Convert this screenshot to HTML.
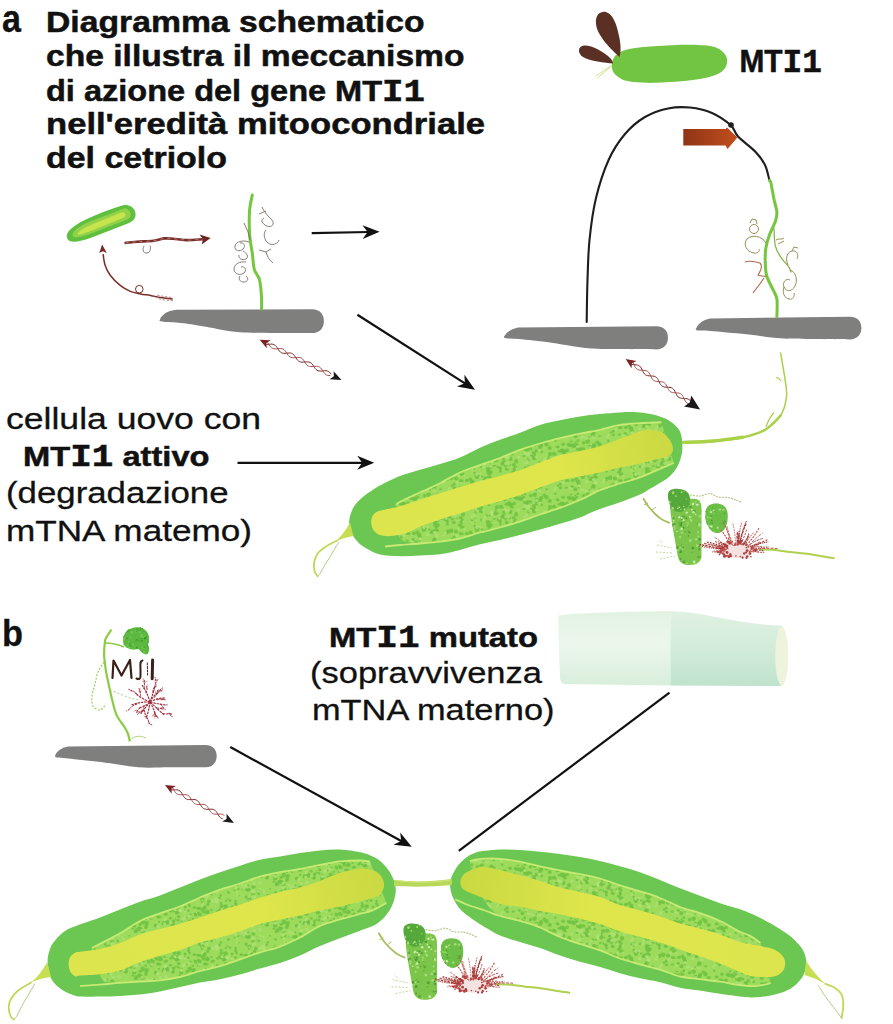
<!DOCTYPE html>
<html><head><meta charset="utf-8"><style>
html,body{margin:0;padding:0;background:#fff;}
svg{display:block;}
</style></head><body>
<svg width="893" height="1024" viewBox="0 0 893 1024">
<defs>
<pattern id="dotpat0" patternUnits="userSpaceOnUse" width="53" height="53"><g fill="#70c242" fill-opacity="0.85"><ellipse cx="24.0" cy="29.7" rx="2.2" ry="2.0"/><ellipse cx="26.9" cy="31.1" rx="1.2" ry="1.1"/><ellipse cx="33.4" cy="42.0" rx="1.1" ry="0.9"/><ellipse cx="4.8" cy="42.9" rx="1.9" ry="1.4"/><ellipse cx="-0.9" cy="-1.9" rx="1.9" ry="1.8"/><ellipse cx="-0.9" cy="51.1" rx="1.9" ry="1.8"/><ellipse cx="52.1" cy="-1.9" rx="1.9" ry="1.8"/><ellipse cx="52.1" cy="51.1" rx="1.9" ry="1.8"/><ellipse cx="8.3" cy="0.8" rx="1.7" ry="1.2"/><ellipse cx="8.3" cy="53.8" rx="1.7" ry="1.2"/><ellipse cx="10.1" cy="12.8" rx="1.0" ry="0.9"/><ellipse cx="23.3" cy="44.6" rx="1.7" ry="1.6"/><ellipse cx="26.5" cy="35.1" rx="1.6" ry="1.3"/><ellipse cx="-0.1" cy="-0.2" rx="2.1" ry="2.1"/><ellipse cx="-0.1" cy="52.8" rx="2.1" ry="2.1"/><ellipse cx="52.9" cy="-0.2" rx="2.1" ry="2.1"/><ellipse cx="52.9" cy="52.8" rx="2.1" ry="2.1"/><ellipse cx="16.7" cy="12.2" rx="1.4" ry="1.0"/><ellipse cx="40.6" cy="21.2" rx="2.1" ry="1.8"/><ellipse cx="-2.2" cy="44.9" rx="1.0" ry="0.8"/><ellipse cx="50.8" cy="44.9" rx="1.0" ry="0.8"/><ellipse cx="48.2" cy="24.9" rx="2.3" ry="2.0"/><ellipse cx="3.9" cy="33.4" rx="2.0" ry="1.6"/><ellipse cx="4.6" cy="17.6" rx="2.3" ry="2.3"/><ellipse cx="6.3" cy="13.1" rx="1.1" ry="0.8"/><ellipse cx="42.2" cy="9.4" rx="1.7" ry="1.5"/><ellipse cx="10.1" cy="38.8" rx="1.2" ry="1.1"/><ellipse cx="6.2" cy="22.3" rx="1.3" ry="1.0"/><ellipse cx="-1.5" cy="42.6" rx="1.4" ry="1.5"/><ellipse cx="51.5" cy="42.6" rx="1.4" ry="1.5"/><ellipse cx="11.2" cy="20.9" rx="2.1" ry="2.0"/><ellipse cx="5.3" cy="-0.6" rx="1.3" ry="1.0"/><ellipse cx="5.3" cy="52.4" rx="1.3" ry="1.0"/><ellipse cx="41.0" cy="17.4" rx="1.4" ry="1.0"/><ellipse cx="4.8" cy="30.9" rx="1.3" ry="1.2"/><ellipse cx="19.7" cy="24.0" rx="2.2" ry="2.0"/><ellipse cx="30.5" cy="45.9" rx="1.2" ry="0.9"/><ellipse cx="48.1" cy="43.3" rx="1.3" ry="1.0"/><ellipse cx="39.2" cy="49.8" rx="1.3" ry="1.4"/><ellipse cx="46.8" cy="32.0" rx="1.5" ry="1.1"/><ellipse cx="2.1" cy="-2.0" rx="1.3" ry="1.3"/><ellipse cx="2.1" cy="51.0" rx="1.3" ry="1.3"/><ellipse cx="55.1" cy="-2.0" rx="1.3" ry="1.3"/><ellipse cx="55.1" cy="51.0" rx="1.3" ry="1.3"/><ellipse cx="13.6" cy="43.7" rx="1.8" ry="1.5"/><ellipse cx="9.3" cy="38.2" rx="1.1" ry="0.9"/><ellipse cx="29.6" cy="45.2" rx="1.8" ry="1.5"/><ellipse cx="48.6" cy="10.8" rx="1.0" ry="0.8"/><ellipse cx="23.6" cy="3.2" rx="1.2" ry="1.0"/><ellipse cx="30.3" cy="7.0" rx="1.5" ry="1.6"/><ellipse cx="-1.0" cy="34.8" rx="1.9" ry="1.8"/><ellipse cx="52.0" cy="34.8" rx="1.9" ry="1.8"/><ellipse cx="7.4" cy="1.9" rx="1.0" ry="1.1"/><ellipse cx="7.4" cy="54.9" rx="1.0" ry="1.1"/><ellipse cx="37.2" cy="-2.0" rx="1.0" ry="1.0"/><ellipse cx="37.2" cy="51.0" rx="1.0" ry="1.0"/><ellipse cx="25.6" cy="38.7" rx="1.4" ry="1.6"/><ellipse cx="4.0" cy="28.9" rx="2.0" ry="2.1"/><ellipse cx="39.1" cy="37.3" rx="2.0" ry="2.2"/><ellipse cx="18.6" cy="36.3" rx="2.2" ry="2.3"/><ellipse cx="22.1" cy="41.9" rx="2.1" ry="2.0"/><ellipse cx="33.1" cy="20.3" rx="1.8" ry="1.7"/><ellipse cx="4.3" cy="33.9" rx="2.3" ry="2.4"/><ellipse cx="38.6" cy="20.6" rx="2.0" ry="1.8"/><ellipse cx="23.3" cy="44.4" rx="1.1" ry="1.1"/><ellipse cx="1.6" cy="31.9" rx="1.6" ry="1.3"/><ellipse cx="54.6" cy="31.9" rx="1.6" ry="1.3"/><ellipse cx="37.0" cy="26.4" rx="1.8" ry="1.9"/><ellipse cx="13.6" cy="0.6" rx="1.4" ry="1.4"/><ellipse cx="13.6" cy="53.6" rx="1.4" ry="1.4"/><ellipse cx="10.7" cy="9.0" rx="2.2" ry="2.1"/><ellipse cx="23.4" cy="47.3" rx="1.4" ry="1.4"/><ellipse cx="10.5" cy="22.8" rx="2.0" ry="2.2"/><ellipse cx="46.7" cy="20.4" rx="1.8" ry="1.5"/><ellipse cx="7.2" cy="26.3" rx="2.1" ry="2.2"/><ellipse cx="37.7" cy="-2.6" rx="1.4" ry="1.0"/><ellipse cx="37.7" cy="50.4" rx="1.4" ry="1.0"/><ellipse cx="23.9" cy="14.6" rx="1.3" ry="1.1"/><ellipse cx="33.2" cy="26.2" rx="1.4" ry="1.5"/><ellipse cx="-1.0" cy="24.0" rx="1.1" ry="0.8"/><ellipse cx="52.0" cy="24.0" rx="1.1" ry="0.8"/><ellipse cx="46.3" cy="2.2" rx="1.9" ry="1.8"/><ellipse cx="46.3" cy="55.2" rx="1.9" ry="1.8"/><ellipse cx="16.4" cy="42.0" rx="1.0" ry="0.8"/><ellipse cx="24.1" cy="1.3" rx="2.1" ry="1.7"/><ellipse cx="24.1" cy="54.3" rx="2.1" ry="1.7"/><ellipse cx="7.5" cy="2.5" rx="1.8" ry="1.6"/><ellipse cx="7.5" cy="55.5" rx="1.8" ry="1.6"/><ellipse cx="33.4" cy="34.7" rx="2.0" ry="2.2"/><ellipse cx="36.3" cy="10.6" rx="1.6" ry="1.2"/><ellipse cx="0.6" cy="25.0" rx="1.9" ry="1.5"/><ellipse cx="53.6" cy="25.0" rx="1.9" ry="1.5"/><ellipse cx="14.4" cy="18.3" rx="1.9" ry="1.7"/><ellipse cx="32.6" cy="40.1" rx="1.5" ry="1.5"/><ellipse cx="48.0" cy="4.6" rx="2.2" ry="2.2"/><ellipse cx="6.9" cy="24.0" rx="1.8" ry="1.9"/><ellipse cx="20.0" cy="30.1" rx="2.1" ry="2.2"/><ellipse cx="-3.0" cy="24.6" rx="1.8" ry="1.4"/><ellipse cx="50.0" cy="24.6" rx="1.8" ry="1.4"/><ellipse cx="38.3" cy="43.4" rx="1.8" ry="1.8"/><ellipse cx="11.3" cy="47.7" rx="2.3" ry="2.5"/><ellipse cx="28.5" cy="41.9" rx="1.4" ry="1.5"/><ellipse cx="45.4" cy="18.5" rx="1.1" ry="1.0"/><ellipse cx="29.2" cy="40.7" rx="1.6" ry="1.2"/><ellipse cx="42.9" cy="3.4" rx="2.0" ry="1.6"/><ellipse cx="17.8" cy="41.8" rx="1.2" ry="0.9"/><ellipse cx="27.4" cy="38.3" rx="2.1" ry="2.0"/><ellipse cx="-2.9" cy="26.1" rx="2.2" ry="1.6"/><ellipse cx="50.1" cy="26.1" rx="2.2" ry="1.6"/><ellipse cx="11.7" cy="27.9" rx="1.4" ry="1.4"/><ellipse cx="33.9" cy="27.7" rx="2.1" ry="1.9"/><ellipse cx="16.5" cy="20.2" rx="2.1" ry="2.2"/><ellipse cx="11.0" cy="45.1" rx="2.3" ry="2.1"/><ellipse cx="30.4" cy="10.7" rx="1.7" ry="1.5"/><ellipse cx="32.1" cy="1.5" rx="2.3" ry="2.0"/><ellipse cx="32.1" cy="54.5" rx="2.3" ry="2.0"/><ellipse cx="21.2" cy="42.5" rx="1.7" ry="1.6"/><ellipse cx="36.6" cy="3.5" rx="1.7" ry="1.5"/><ellipse cx="-2.3" cy="48.9" rx="1.3" ry="1.2"/><ellipse cx="50.7" cy="48.9" rx="1.3" ry="1.2"/><ellipse cx="6.7" cy="23.0" rx="2.1" ry="2.2"/><ellipse cx="25.3" cy="16.8" rx="1.2" ry="1.2"/><ellipse cx="49.0" cy="6.9" rx="2.0" ry="1.4"/><ellipse cx="10.3" cy="12.0" rx="1.9" ry="1.6"/><ellipse cx="18.8" cy="32.8" rx="1.1" ry="1.1"/><ellipse cx="6.5" cy="27.1" rx="1.3" ry="1.0"/><ellipse cx="28.1" cy="23.1" rx="1.5" ry="1.3"/><ellipse cx="28.1" cy="8.5" rx="1.3" ry="1.2"/><ellipse cx="33.8" cy="28.1" rx="2.1" ry="2.0"/><ellipse cx="45.4" cy="12.3" rx="2.0" ry="2.0"/><ellipse cx="47.8" cy="16.7" rx="1.4" ry="1.5"/><ellipse cx="11.6" cy="-0.1" rx="2.2" ry="1.6"/><ellipse cx="11.6" cy="52.9" rx="2.2" ry="1.6"/><ellipse cx="12.7" cy="38.5" rx="1.3" ry="1.0"/><ellipse cx="44.1" cy="22.3" rx="2.0" ry="1.5"/><ellipse cx="21.3" cy="36.3" rx="1.0" ry="0.8"/><ellipse cx="36.2" cy="48.3" rx="2.3" ry="1.7"/><ellipse cx="26.8" cy="40.2" rx="1.7" ry="1.6"/><ellipse cx="10.0" cy="3.7" rx="1.1" ry="0.8"/><ellipse cx="29.2" cy="27.3" rx="1.7" ry="1.3"/><ellipse cx="9.8" cy="10.8" rx="2.1" ry="2.3"/><ellipse cx="49.1" cy="5.0" rx="1.1" ry="1.2"/><ellipse cx="24.5" cy="40.5" rx="1.4" ry="1.3"/><ellipse cx="27.3" cy="22.8" rx="1.8" ry="1.3"/><ellipse cx="37.2" cy="44.7" rx="1.2" ry="1.1"/><ellipse cx="39.2" cy="21.5" rx="1.3" ry="1.0"/><ellipse cx="27.2" cy="0.8" rx="2.2" ry="2.2"/><ellipse cx="27.2" cy="53.8" rx="2.2" ry="2.2"/><ellipse cx="37.3" cy="45.6" rx="1.8" ry="1.6"/><ellipse cx="31.8" cy="26.7" rx="2.3" ry="2.3"/><ellipse cx="13.7" cy="48.3" rx="2.0" ry="2.0"/><ellipse cx="43.2" cy="21.5" rx="2.2" ry="2.3"/><ellipse cx="36.8" cy="40.7" rx="2.0" ry="1.7"/><ellipse cx="38.3" cy="3.7" rx="1.4" ry="1.3"/><ellipse cx="0.6" cy="18.8" rx="1.8" ry="1.7"/><ellipse cx="53.6" cy="18.8" rx="1.8" ry="1.7"/><ellipse cx="12.3" cy="-2.9" rx="1.9" ry="1.6"/><ellipse cx="12.3" cy="50.1" rx="1.9" ry="1.6"/><ellipse cx="35.0" cy="30.2" rx="1.7" ry="1.4"/></g><g fill="#b4e37a" fill-opacity="0.7"><circle cx="-0.0" cy="34.0" r="1.7"/><circle cx="53.0" cy="34.0" r="1.7"/><circle cx="40.4" cy="-1.1" r="1.0"/><circle cx="40.4" cy="51.9" r="1.0"/><circle cx="32.6" cy="39.2" r="1.3"/><circle cx="21.3" cy="2.7" r="1.2"/><circle cx="21.3" cy="55.7" r="1.2"/><circle cx="19.9" cy="5.2" r="1.3"/><circle cx="48.0" cy="29.2" r="1.5"/><circle cx="-1.7" cy="30.1" r="2.0"/><circle cx="51.3" cy="30.1" r="2.0"/><circle cx="33.8" cy="42.9" r="1.1"/><circle cx="31.7" cy="40.2" r="1.0"/><circle cx="49.3" cy="8.5" r="1.5"/><circle cx="9.0" cy="26.3" r="1.6"/><circle cx="3.1" cy="-2.9" r="1.4"/><circle cx="3.1" cy="50.1" r="1.4"/><circle cx="27.9" cy="31.7" r="1.4"/><circle cx="15.1" cy="34.7" r="1.6"/><circle cx="15.0" cy="38.0" r="1.3"/><circle cx="0.7" cy="13.0" r="1.0"/><circle cx="53.7" cy="13.0" r="1.0"/><circle cx="8.3" cy="40.0" r="1.4"/><circle cx="47.6" cy="39.7" r="1.1"/><circle cx="-0.6" cy="-2.9" r="1.1"/><circle cx="-0.6" cy="50.1" r="1.1"/><circle cx="52.4" cy="-2.9" r="1.1"/><circle cx="52.4" cy="50.1" r="1.1"/><circle cx="48.0" cy="22.8" r="1.5"/><circle cx="-1.4" cy="12.9" r="1.5"/><circle cx="51.6" cy="12.9" r="1.5"/><circle cx="49.7" cy="38.3" r="1.5"/><circle cx="-1.1" cy="43.3" r="1.6"/><circle cx="51.9" cy="43.3" r="1.6"/><circle cx="6.1" cy="33.1" r="1.5"/><circle cx="10.8" cy="2.8" r="1.5"/><circle cx="10.8" cy="55.8" r="1.5"/><circle cx="6.6" cy="23.5" r="1.7"/><circle cx="24.1" cy="13.9" r="1.6"/><circle cx="22.2" cy="41.2" r="1.5"/><circle cx="-0.1" cy="-2.5" r="1.7"/><circle cx="-0.1" cy="50.5" r="1.7"/><circle cx="52.9" cy="-2.5" r="1.7"/><circle cx="52.9" cy="50.5" r="1.7"/><circle cx="12.6" cy="6.0" r="1.9"/><circle cx="41.6" cy="33.1" r="1.4"/><circle cx="14.4" cy="36.3" r="1.6"/><circle cx="31.4" cy="33.6" r="1.8"/><circle cx="10.1" cy="13.2" r="2.0"/><circle cx="48.5" cy="46.6" r="1.0"/><circle cx="3.2" cy="14.4" r="1.4"/><circle cx="33.0" cy="5.4" r="1.5"/><circle cx="3.8" cy="4.6" r="1.7"/><circle cx="29.2" cy="33.4" r="1.4"/><circle cx="25.4" cy="11.2" r="1.3"/><circle cx="39.5" cy="44.4" r="1.1"/><circle cx="6.3" cy="42.9" r="1.6"/><circle cx="40.7" cy="11.3" r="1.4"/><circle cx="13.7" cy="42.9" r="1.4"/><circle cx="34.6" cy="-0.6" r="1.3"/><circle cx="34.6" cy="52.4" r="1.3"/><circle cx="29.1" cy="39.5" r="1.9"/></g></pattern><pattern id="dotpat1" patternUnits="userSpaceOnUse" width="47" height="47"><g fill="#70c242" fill-opacity="0.85"><ellipse cx="22.3" cy="30.9" rx="1.9" ry="1.4"/><ellipse cx="0.5" cy="17.6" rx="1.4" ry="1.4"/><ellipse cx="47.5" cy="17.6" rx="1.4" ry="1.4"/><ellipse cx="32.5" cy="28.3" rx="1.7" ry="1.7"/><ellipse cx="6.8" cy="20.7" rx="1.2" ry="1.3"/><ellipse cx="2.8" cy="38.5" rx="1.1" ry="1.1"/><ellipse cx="49.8" cy="38.5" rx="1.1" ry="1.1"/><ellipse cx="15.8" cy="19.0" rx="2.1" ry="1.5"/><ellipse cx="2.9" cy="43.0" rx="1.7" ry="1.2"/><ellipse cx="49.9" cy="43.0" rx="1.7" ry="1.2"/><ellipse cx="-0.6" cy="-2.5" rx="1.1" ry="1.0"/><ellipse cx="-0.6" cy="44.5" rx="1.1" ry="1.0"/><ellipse cx="46.4" cy="-2.5" rx="1.1" ry="1.0"/><ellipse cx="46.4" cy="44.5" rx="1.1" ry="1.0"/><ellipse cx="6.3" cy="14.7" rx="1.8" ry="1.4"/><ellipse cx="32.8" cy="2.4" rx="1.2" ry="1.3"/><ellipse cx="32.8" cy="49.4" rx="1.2" ry="1.3"/><ellipse cx="18.8" cy="19.7" rx="1.8" ry="1.6"/><ellipse cx="18.1" cy="1.4" rx="1.9" ry="2.1"/><ellipse cx="18.1" cy="48.4" rx="1.9" ry="2.1"/><ellipse cx="-1.1" cy="31.2" rx="1.5" ry="1.2"/><ellipse cx="45.9" cy="31.2" rx="1.5" ry="1.2"/><ellipse cx="32.4" cy="31.7" rx="1.1" ry="0.9"/><ellipse cx="17.1" cy="24.0" rx="2.1" ry="1.8"/><ellipse cx="1.3" cy="38.7" rx="1.6" ry="1.4"/><ellipse cx="48.3" cy="38.7" rx="1.6" ry="1.4"/><ellipse cx="10.4" cy="20.1" rx="1.5" ry="1.5"/><ellipse cx="4.8" cy="25.8" rx="1.2" ry="1.2"/><ellipse cx="1.7" cy="13.0" rx="1.4" ry="1.4"/><ellipse cx="48.7" cy="13.0" rx="1.4" ry="1.4"/><ellipse cx="2.4" cy="21.6" rx="1.3" ry="1.0"/><ellipse cx="49.4" cy="21.6" rx="1.3" ry="1.0"/><ellipse cx="22.4" cy="-1.9" rx="1.6" ry="1.8"/><ellipse cx="22.4" cy="45.1" rx="1.6" ry="1.8"/><ellipse cx="7.9" cy="43.4" rx="1.5" ry="1.1"/><ellipse cx="35.2" cy="42.9" rx="1.0" ry="0.8"/><ellipse cx="36.2" cy="16.1" rx="1.3" ry="0.9"/><ellipse cx="1.9" cy="29.1" rx="2.3" ry="2.5"/><ellipse cx="48.9" cy="29.1" rx="2.3" ry="2.5"/><ellipse cx="23.7" cy="1.1" rx="1.4" ry="1.4"/><ellipse cx="23.7" cy="48.1" rx="1.4" ry="1.4"/><ellipse cx="39.1" cy="30.1" rx="1.3" ry="1.2"/><ellipse cx="22.4" cy="29.5" rx="1.3" ry="1.4"/><ellipse cx="42.0" cy="7.6" rx="1.4" ry="1.4"/><ellipse cx="13.1" cy="-2.6" rx="1.7" ry="1.6"/><ellipse cx="13.1" cy="44.4" rx="1.7" ry="1.6"/><ellipse cx="33.1" cy="10.1" rx="1.4" ry="1.1"/><ellipse cx="32.1" cy="32.6" rx="1.2" ry="1.2"/><ellipse cx="19.8" cy="11.3" rx="1.6" ry="1.7"/><ellipse cx="26.3" cy="29.4" rx="2.2" ry="2.4"/><ellipse cx="35.7" cy="19.6" rx="1.8" ry="1.9"/><ellipse cx="37.1" cy="27.3" rx="1.5" ry="1.2"/><ellipse cx="34.6" cy="26.5" rx="1.0" ry="1.0"/><ellipse cx="42.5" cy="37.5" rx="2.2" ry="2.3"/><ellipse cx="25.1" cy="37.1" rx="1.5" ry="1.1"/><ellipse cx="16.6" cy="14.7" rx="2.2" ry="2.2"/><ellipse cx="25.5" cy="29.2" rx="1.2" ry="1.1"/><ellipse cx="32.9" cy="18.5" rx="1.3" ry="1.1"/><ellipse cx="15.2" cy="32.2" rx="1.2" ry="0.9"/><ellipse cx="14.7" cy="32.7" rx="2.0" ry="1.9"/><ellipse cx="43.9" cy="17.2" rx="1.0" ry="0.9"/><ellipse cx="20.9" cy="8.4" rx="1.9" ry="1.6"/><ellipse cx="11.2" cy="15.4" rx="2.2" ry="1.6"/><ellipse cx="16.9" cy="13.1" rx="1.3" ry="1.1"/><ellipse cx="10.4" cy="43.2" rx="1.7" ry="1.6"/><ellipse cx="7.6" cy="21.8" rx="1.8" ry="1.9"/><ellipse cx="11.7" cy="21.6" rx="2.1" ry="2.2"/><ellipse cx="10.7" cy="25.3" rx="2.0" ry="1.7"/><ellipse cx="31.6" cy="31.2" rx="2.3" ry="2.1"/><ellipse cx="32.0" cy="16.5" rx="2.0" ry="1.6"/><ellipse cx="23.5" cy="17.0" rx="1.4" ry="1.1"/><ellipse cx="10.6" cy="25.6" rx="1.3" ry="1.0"/><ellipse cx="37.8" cy="13.4" rx="2.2" ry="2.1"/><ellipse cx="18.3" cy="41.0" rx="2.2" ry="1.8"/><ellipse cx="5.9" cy="30.1" rx="2.1" ry="2.0"/><ellipse cx="36.9" cy="19.4" rx="1.8" ry="1.5"/><ellipse cx="19.1" cy="17.8" rx="1.5" ry="1.3"/><ellipse cx="37.9" cy="8.0" rx="1.3" ry="1.0"/><ellipse cx="-1.4" cy="24.6" rx="1.1" ry="1.1"/><ellipse cx="45.6" cy="24.6" rx="1.1" ry="1.1"/><ellipse cx="41.1" cy="38.6" rx="1.5" ry="1.5"/><ellipse cx="14.4" cy="6.5" rx="2.1" ry="2.2"/><ellipse cx="9.9" cy="41.4" rx="1.0" ry="0.8"/><ellipse cx="0.6" cy="8.0" rx="1.2" ry="1.2"/><ellipse cx="47.6" cy="8.0" rx="1.2" ry="1.2"/><ellipse cx="13.9" cy="8.9" rx="1.2" ry="1.0"/><ellipse cx="40.5" cy="28.5" rx="1.1" ry="1.1"/><ellipse cx="25.2" cy="21.1" rx="1.7" ry="1.6"/><ellipse cx="37.6" cy="23.7" rx="1.8" ry="1.6"/><ellipse cx="29.8" cy="18.3" rx="1.5" ry="1.4"/><ellipse cx="33.6" cy="13.1" rx="2.2" ry="2.0"/><ellipse cx="40.2" cy="32.4" rx="2.2" ry="2.2"/><ellipse cx="20.1" cy="19.1" rx="1.8" ry="1.8"/><ellipse cx="39.4" cy="6.1" rx="1.1" ry="0.8"/><ellipse cx="4.0" cy="2.7" rx="1.0" ry="0.8"/><ellipse cx="4.0" cy="49.7" rx="1.0" ry="0.8"/><ellipse cx="5.3" cy="32.2" rx="1.8" ry="2.0"/><ellipse cx="-1.9" cy="35.1" rx="2.2" ry="1.6"/><ellipse cx="45.1" cy="35.1" rx="2.2" ry="1.6"/><ellipse cx="10.7" cy="43.5" rx="1.6" ry="1.3"/><ellipse cx="35.6" cy="19.9" rx="1.7" ry="1.4"/><ellipse cx="11.4" cy="4.1" rx="1.8" ry="1.9"/><ellipse cx="-0.6" cy="36.0" rx="2.2" ry="1.9"/><ellipse cx="46.4" cy="36.0" rx="2.2" ry="1.9"/><ellipse cx="14.0" cy="43.4" rx="1.8" ry="1.7"/><ellipse cx="0.6" cy="10.7" rx="1.6" ry="1.6"/><ellipse cx="47.6" cy="10.7" rx="1.6" ry="1.6"/><ellipse cx="38.8" cy="35.6" rx="1.4" ry="1.2"/><ellipse cx="40.5" cy="-0.5" rx="1.6" ry="1.3"/><ellipse cx="40.5" cy="46.5" rx="1.6" ry="1.3"/><ellipse cx="29.3" cy="25.2" rx="1.5" ry="1.2"/><ellipse cx="18.1" cy="28.8" rx="1.2" ry="1.1"/><ellipse cx="-2.2" cy="35.0" rx="1.3" ry="1.2"/><ellipse cx="44.8" cy="35.0" rx="1.3" ry="1.2"/><ellipse cx="4.8" cy="34.6" rx="1.8" ry="1.4"/><ellipse cx="25.8" cy="28.0" rx="1.8" ry="1.5"/><ellipse cx="14.6" cy="16.7" rx="2.3" ry="1.9"/><ellipse cx="23.6" cy="21.6" rx="1.2" ry="1.1"/><ellipse cx="9.6" cy="15.1" rx="1.5" ry="1.2"/><ellipse cx="-2.9" cy="14.0" rx="1.4" ry="1.4"/><ellipse cx="44.1" cy="14.0" rx="1.4" ry="1.4"/><ellipse cx="18.7" cy="24.2" rx="1.8" ry="1.3"/><ellipse cx="31.6" cy="4.8" rx="1.3" ry="1.4"/><ellipse cx="-0.5" cy="31.7" rx="1.2" ry="1.1"/><ellipse cx="46.5" cy="31.7" rx="1.2" ry="1.1"/><ellipse cx="13.3" cy="39.5" rx="1.3" ry="1.0"/></g><g fill="#b4e37a" fill-opacity="0.7"><circle cx="30.0" cy="29.9" r="1.6"/><circle cx="22.5" cy="-1.9" r="1.5"/><circle cx="22.5" cy="45.1" r="1.5"/><circle cx="-3.0" cy="18.4" r="1.5"/><circle cx="44.0" cy="18.4" r="1.5"/><circle cx="16.9" cy="33.6" r="1.8"/><circle cx="11.2" cy="24.7" r="1.7"/><circle cx="23.6" cy="31.1" r="1.6"/><circle cx="33.6" cy="16.7" r="1.3"/><circle cx="1.2" cy="41.8" r="1.8"/><circle cx="48.2" cy="41.8" r="1.8"/><circle cx="18.3" cy="-1.5" r="1.9"/><circle cx="18.3" cy="45.5" r="1.9"/><circle cx="7.1" cy="39.3" r="1.4"/><circle cx="14.8" cy="12.2" r="1.4"/><circle cx="2.4" cy="2.4" r="1.1"/><circle cx="2.4" cy="49.4" r="1.1"/><circle cx="49.4" cy="2.4" r="1.1"/><circle cx="49.4" cy="49.4" r="1.1"/><circle cx="14.4" cy="7.4" r="1.1"/><circle cx="39.1" cy="17.8" r="1.5"/><circle cx="28.3" cy="43.9" r="1.1"/><circle cx="10.7" cy="40.4" r="1.9"/><circle cx="43.8" cy="24.8" r="1.4"/><circle cx="8.9" cy="42.8" r="1.8"/><circle cx="25.9" cy="37.2" r="1.3"/><circle cx="25.1" cy="42.6" r="1.1"/><circle cx="29.0" cy="8.7" r="1.8"/><circle cx="39.4" cy="30.3" r="1.4"/><circle cx="1.0" cy="23.2" r="1.4"/><circle cx="48.0" cy="23.2" r="1.4"/><circle cx="18.8" cy="3.7" r="1.9"/><circle cx="24.5" cy="26.4" r="1.8"/><circle cx="42.1" cy="25.8" r="1.5"/><circle cx="39.8" cy="17.5" r="1.9"/><circle cx="1.1" cy="37.4" r="1.5"/><circle cx="48.1" cy="37.4" r="1.5"/><circle cx="29.3" cy="-0.5" r="1.2"/><circle cx="29.3" cy="46.5" r="1.2"/><circle cx="19.1" cy="37.6" r="1.7"/><circle cx="24.6" cy="36.5" r="1.7"/><circle cx="40.9" cy="30.6" r="1.4"/><circle cx="13.5" cy="3.9" r="1.1"/><circle cx="2.0" cy="-1.1" r="1.1"/><circle cx="2.0" cy="45.9" r="1.1"/><circle cx="49.0" cy="-1.1" r="1.1"/><circle cx="49.0" cy="45.9" r="1.1"/><circle cx="28.3" cy="6.3" r="2.0"/><circle cx="25.0" cy="8.3" r="1.8"/></g></pattern><clipPath id="lc0"><path d="M396.0,505.0 C396.7,504.5 396.0,504.0 400.0,501.9 C404.0,499.8 413.3,495.6 420.0,492.5 C426.7,489.4 433.3,486.5 440.0,483.2 C446.7,479.9 453.3,475.5 460.0,472.5 C466.7,469.5 473.3,467.5 480.0,465.1 C486.7,462.7 493.3,460.7 500.0,458.1 C506.7,455.6 513.3,452.2 520.0,449.8 C526.7,447.4 533.3,445.4 540.0,443.5 C546.7,441.6 553.3,439.7 560.0,438.1 C566.7,436.5 573.3,435.1 580.0,433.7 C586.7,432.3 593.3,431.3 600.0,429.8 C606.7,428.3 613.3,425.9 620.0,424.8 C626.7,423.7 633.1,423.5 640.0,423.1 C646.9,422.7 657.8,422.4 661.4,422.2 L673.8,463.0 C671.5,464.0 665.6,466.4 660.0,468.8 C654.4,471.2 646.7,474.9 640.0,477.4 C633.3,479.8 626.7,481.4 620.0,483.5 C613.3,485.6 606.7,487.4 600.0,490.2 C593.3,492.9 586.7,497.1 580.0,500.0 C573.3,502.9 566.7,505.5 560.0,507.9 C553.3,510.3 546.7,512.2 540.0,514.5 C533.3,516.8 526.7,519.4 520.0,521.6 C513.3,523.8 506.7,525.7 500.0,527.5 C493.3,529.3 486.7,530.7 480.0,532.5 C473.3,534.3 466.7,537.0 460.0,538.5 C453.3,540.0 446.7,540.8 440.0,541.6 C433.3,542.4 426.3,543.6 420.0,543.5 C413.7,543.4 405.0,541.4 402.0,541.0 L390.0,522.0 L396.0,505.0Z"/></clipPath><linearGradient id="yg0" gradientUnits="userSpaceOnUse" x1="380.0" y1="520.0" x2="675.0" y2="445.0"><stop offset="0" stop-color="#dde54e"/><stop offset="0.6" stop-color="#dfe64c"/><stop offset="1" stop-color="#cad942"/></linearGradient><clipPath id="lc1"><path d="M92.0,948.0 C93.3,947.3 95.3,946.4 100.0,943.9 C104.7,941.4 113.3,937.1 120.0,933.3 C126.7,929.5 133.3,924.3 140.0,921.0 C146.7,917.7 153.3,915.7 160.0,913.3 C166.7,910.9 173.3,909.1 180.0,906.5 C186.7,903.9 193.3,900.3 200.0,897.5 C206.7,894.7 213.3,891.9 220.0,889.6 C226.7,887.3 233.3,885.7 240.0,883.5 C246.7,881.3 253.3,878.4 260.0,876.5 C266.7,874.6 273.3,873.4 280.0,872.1 C286.7,870.9 293.3,870.2 300.0,869.0 C306.7,867.8 313.3,866.2 320.0,864.9 C326.7,863.6 333.3,862.1 340.0,861.4 C346.7,860.7 355.0,860.5 360.0,860.5 C365.0,860.5 368.3,861.3 370.0,861.5 L386.4,903.0 C384.2,904.2 377.6,908.3 373.2,910.1 C368.8,911.9 365.5,912.5 360.0,914.0 C354.5,915.5 346.7,917.4 340.0,919.4 C333.3,921.4 326.7,923.0 320.0,926.0 C313.3,929.0 306.7,934.1 300.0,937.5 C293.3,940.9 286.7,944.1 280.0,946.6 C273.3,949.1 266.7,950.4 260.0,952.5 C253.3,954.6 246.7,957.1 240.0,959.4 C233.3,961.7 226.7,964.3 220.0,966.2 C213.3,968.1 206.7,969.2 200.0,971.0 C193.3,972.8 186.7,975.5 180.0,977.0 C173.3,978.5 166.7,979.5 160.0,980.3 C153.3,981.1 146.7,981.3 140.0,981.7 C133.3,982.1 126.0,982.8 120.0,982.8 C114.0,982.8 106.7,981.7 104.0,981.5 L90.0,962.0 L92.0,948.0Z"/></clipPath><linearGradient id="yg1" gradientUnits="userSpaceOnUse" x1="80.0" y1="965.0" x2="384.0" y2="882.0"><stop offset="0" stop-color="#dde54e"/><stop offset="0.6" stop-color="#dfe64c"/><stop offset="1" stop-color="#cad942"/></linearGradient><clipPath id="lc2"><path d="M470.0,861.0 C471.1,860.8 474.1,859.9 476.6,859.5 C479.1,859.1 481.1,858.7 485.0,858.6 C488.9,858.5 494.2,858.3 500.0,858.8 C505.8,859.3 513.3,860.4 520.0,861.7 C526.7,863.0 533.3,865.0 540.0,866.4 C546.7,867.8 553.3,869.1 560.0,870.4 C566.7,871.7 573.3,872.9 580.0,874.2 C586.7,875.6 593.3,876.6 600.0,878.5 C606.7,880.4 613.3,883.2 620.0,885.3 C626.7,887.4 633.3,889.2 640.0,891.3 C646.7,893.4 653.3,895.4 660.0,898.0 C666.7,900.6 673.3,904.5 680.0,907.0 C686.7,909.5 693.3,910.9 700.0,913.2 C706.7,915.5 713.3,917.9 720.0,921.0 C726.7,924.1 735.0,929.3 740.0,931.8 C745.0,934.3 746.8,934.0 750.2,935.9 C753.6,937.8 758.8,941.9 760.5,943.1 L770.7,983.1 C768.2,983.6 760.5,985.8 755.4,986.1 C750.3,986.4 745.9,985.8 740.0,985.1 C734.1,984.4 726.7,982.7 720.0,981.7 C713.3,980.7 706.7,980.1 700.0,979.2 C693.3,978.3 686.7,978.1 680.0,976.5 C673.3,974.9 666.7,971.7 660.0,969.7 C653.3,967.7 646.7,966.3 640.0,964.4 C633.3,962.5 626.7,960.8 620.0,958.5 C613.3,956.2 606.7,952.8 600.0,950.4 C593.3,948.0 586.7,946.2 580.0,944.0 C573.3,941.8 566.7,939.8 560.0,937.0 C553.3,934.2 546.7,930.2 540.0,927.5 C533.3,924.8 526.7,922.8 520.0,920.9 C513.3,919.0 505.3,918.5 500.0,916.0 C494.7,913.5 490.0,907.7 488.0,906.0 L472.0,882.0 L470.0,861.0Z"/></clipPath><linearGradient id="yg2" gradientUnits="userSpaceOnUse" x1="784.0" y1="960.0" x2="465.0" y2="880.0"><stop offset="0" stop-color="#dde54e"/><stop offset="0.6" stop-color="#dfe64c"/><stop offset="1" stop-color="#cad942"/></linearGradient>
</defs>
<rect width="893" height="1024" fill="#fff"/>
<g>
<path d="M349.4,519.1 C349.8,516.8 350.7,513.8 351.7,511.3 C352.7,508.8 353.7,506.7 355.6,504.2 C357.6,501.7 360.8,498.6 363.4,496.4 C366.0,494.2 368.5,492.7 371.3,490.9 C374.1,489.1 375.2,488.1 380.0,485.6 C384.8,483.1 393.3,478.7 400.0,476.1 C406.7,473.5 413.3,471.8 420.0,469.8 C426.7,467.8 433.3,466.2 440.0,464.1 C446.7,462.1 453.3,460.2 460.0,457.5 C466.7,454.8 473.3,450.8 480.0,447.8 C486.7,444.8 493.3,442.2 500.0,439.7 C506.7,437.2 513.2,435.2 520.0,432.7 C526.8,430.2 533.9,426.9 540.6,424.8 C547.3,422.7 553.4,421.7 560.0,420.3 C566.6,418.9 573.3,417.6 580.0,416.5 C586.7,415.4 593.3,414.7 600.0,414.0 C606.7,413.3 613.8,412.7 620.0,412.4 C626.2,412.1 631.9,411.9 637.0,412.2 C642.1,412.5 646.1,413.1 650.6,414.1 C655.1,415.1 660.5,416.7 664.1,418.1 C667.7,419.6 669.7,420.9 672.2,422.8 C674.7,424.7 677.3,427.1 678.9,429.6 C680.5,432.1 681.2,434.7 681.8,438.0 C682.4,441.3 682.4,446.3 682.3,449.6 C682.1,452.9 681.6,455.1 680.9,457.6 C680.2,460.1 679.4,462.4 678.2,464.8 C677.0,467.2 675.6,469.8 673.8,472.0 C672.0,474.2 669.8,476.4 667.5,478.2 C665.2,480.0 663.0,481.0 660.3,482.7 C657.6,484.4 654.8,486.1 651.4,488.1 C648.0,490.1 644.4,492.5 640.0,494.6 C635.6,496.7 630.0,498.6 625.0,500.5 C620.0,502.4 614.9,503.9 609.7,505.7 C604.6,507.5 599.1,509.2 594.1,511.2 C589.1,513.2 585.7,515.4 580.0,517.5 C574.3,519.6 566.7,521.8 560.0,523.8 C553.3,525.8 546.7,527.6 540.0,529.5 C533.3,531.4 526.7,533.1 520.0,534.9 C513.3,536.6 506.7,538.4 500.0,540.0 C493.3,541.6 486.7,542.6 480.0,544.3 C473.3,546.0 466.7,548.3 460.0,550.0 C453.3,551.7 446.7,553.4 440.0,554.3 C433.3,555.2 426.7,555.2 420.0,555.5 C413.3,555.8 406.7,556.4 400.0,556.2 C393.3,556.0 385.1,555.4 380.0,554.4 C374.9,553.4 372.7,551.8 369.7,550.3 C366.7,548.8 364.2,547.4 361.9,545.6 C359.5,543.8 357.3,541.5 355.6,539.4 C353.9,537.3 352.7,535.5 351.7,533.1 C350.7,530.8 349.8,527.6 349.4,525.3 C349.0,523.0 349.0,521.4 349.4,519.1Z" fill="#6bc751"/>
<path d="M396.0,505.0 C396.7,504.5 396.0,504.0 400.0,501.9 C404.0,499.8 413.3,495.6 420.0,492.5 C426.7,489.4 433.3,486.5 440.0,483.2 C446.7,479.9 453.3,475.5 460.0,472.5 C466.7,469.5 473.3,467.5 480.0,465.1 C486.7,462.7 493.3,460.7 500.0,458.1 C506.7,455.6 513.3,452.2 520.0,449.8 C526.7,447.4 533.3,445.4 540.0,443.5 C546.7,441.6 553.3,439.7 560.0,438.1 C566.7,436.5 573.3,435.1 580.0,433.7 C586.7,432.3 593.3,431.3 600.0,429.8 C606.7,428.3 613.3,425.9 620.0,424.8 C626.7,423.7 633.1,423.5 640.0,423.1 C646.9,422.7 657.8,422.4 661.4,422.2 L673.8,463.0 C671.5,464.0 665.6,466.4 660.0,468.8 C654.4,471.2 646.7,474.9 640.0,477.4 C633.3,479.8 626.7,481.4 620.0,483.5 C613.3,485.6 606.7,487.4 600.0,490.2 C593.3,492.9 586.7,497.1 580.0,500.0 C573.3,502.9 566.7,505.5 560.0,507.9 C553.3,510.3 546.7,512.2 540.0,514.5 C533.3,516.8 526.7,519.4 520.0,521.6 C513.3,523.8 506.7,525.7 500.0,527.5 C493.3,529.3 486.7,530.7 480.0,532.5 C473.3,534.3 466.7,537.0 460.0,538.5 C453.3,540.0 446.7,540.8 440.0,541.6 C433.3,542.4 426.3,543.6 420.0,543.5 C413.7,543.4 405.0,541.4 402.0,541.0 L390.0,522.0 L396.0,505.0Z" fill="#9ddb5c"/>
<path d="M396.0,505.0 C396.7,504.5 396.0,504.0 400.0,501.9 C404.0,499.8 413.3,495.6 420.0,492.5 C426.7,489.4 433.3,486.5 440.0,483.2 C446.7,479.9 453.3,475.5 460.0,472.5 C466.7,469.5 473.3,467.5 480.0,465.1 C486.7,462.7 493.3,460.7 500.0,458.1 C506.7,455.6 513.3,452.2 520.0,449.8 C526.7,447.4 533.3,445.4 540.0,443.5 C546.7,441.6 553.3,439.7 560.0,438.1 C566.7,436.5 573.3,435.1 580.0,433.7 C586.7,432.3 593.3,431.3 600.0,429.8 C606.7,428.3 613.3,425.9 620.0,424.8 C626.7,423.7 633.1,423.5 640.0,423.1 C646.9,422.7 657.8,422.4 661.4,422.2 L673.8,463.0 C671.5,464.0 665.6,466.4 660.0,468.8 C654.4,471.2 646.7,474.9 640.0,477.4 C633.3,479.8 626.7,481.4 620.0,483.5 C613.3,485.6 606.7,487.4 600.0,490.2 C593.3,492.9 586.7,497.1 580.0,500.0 C573.3,502.9 566.7,505.5 560.0,507.9 C553.3,510.3 546.7,512.2 540.0,514.5 C533.3,516.8 526.7,519.4 520.0,521.6 C513.3,523.8 506.7,525.7 500.0,527.5 C493.3,529.3 486.7,530.7 480.0,532.5 C473.3,534.3 466.7,537.0 460.0,538.5 C453.3,540.0 446.7,540.8 440.0,541.6 C433.3,542.4 426.3,543.6 420.0,543.5 C413.7,543.4 405.0,541.4 402.0,541.0 L390.0,522.0 L396.0,505.0Z" fill="url(#dotpat0)"/>
<path d="M396.0,505.0 C396.7,504.5 396.0,504.0 400.0,501.9 C404.0,499.8 413.3,495.6 420.0,492.5 C426.7,489.4 433.3,486.5 440.0,483.2 C446.7,479.9 453.3,475.5 460.0,472.5 C466.7,469.5 473.3,467.5 480.0,465.1 C486.7,462.7 493.3,460.7 500.0,458.1 C506.7,455.6 513.3,452.2 520.0,449.8 C526.7,447.4 533.3,445.4 540.0,443.5 C546.7,441.6 553.3,439.7 560.0,438.1 C566.7,436.5 573.3,435.1 580.0,433.7 C586.7,432.3 593.3,431.3 600.0,429.8 C606.7,428.3 613.3,425.9 620.0,424.8 C626.7,423.7 633.1,423.5 640.0,423.1 C646.9,422.7 657.8,422.4 661.4,422.2" fill="none" stroke="#c6ea74" stroke-width="1.8"/>
<path d="M673.8,463.0 C671.5,464.0 665.6,466.4 660.0,468.8 C654.4,471.2 646.7,474.9 640.0,477.4 C633.3,479.8 626.7,481.4 620.0,483.5 C613.3,485.6 606.7,487.4 600.0,490.2 C593.3,492.9 586.7,497.1 580.0,500.0 C573.3,502.9 566.7,505.5 560.0,507.9 C553.3,510.3 546.7,512.2 540.0,514.5 C533.3,516.8 526.7,519.4 520.0,521.6 C513.3,523.8 506.7,525.7 500.0,527.5 C493.3,529.3 486.7,530.7 480.0,532.5 C473.3,534.3 466.7,537.0 460.0,538.5 C453.3,540.0 446.7,540.8 440.0,541.6 C433.3,542.4 426.7,542.9 420.0,543.5 C413.3,544.1 405.8,544.5 400.0,545.0 C394.2,545.5 387.5,546.2 385.0,546.5" fill="none" stroke="#c6ea74" stroke-width="1.8"/>
<path d="M371.2,522.5 C371.1,520.4 371.6,518.1 372.3,516.5 C373.0,514.9 374.2,513.8 375.5,512.8 C376.8,511.8 377.6,511.5 380.0,510.8 C382.4,510.1 386.7,509.3 390.0,508.5 C393.3,507.7 395.0,507.7 400.0,506.2 C405.0,504.7 413.3,501.8 420.0,499.7 C426.7,497.6 433.3,495.4 440.0,493.3 C446.7,491.2 453.3,489.1 460.0,487.0 C466.7,484.9 473.3,482.9 480.0,481.0 C486.7,479.1 493.3,477.7 500.0,475.9 C506.7,474.1 513.3,472.5 520.0,470.3 C526.7,468.1 533.3,465.0 540.0,462.5 C546.7,460.0 553.3,457.2 560.0,455.3 C566.7,453.4 573.3,452.5 580.0,451.0 C586.7,449.5 593.3,448.4 600.0,446.3 C606.7,444.2 613.3,441.2 620.0,438.7 C626.7,436.2 634.8,432.7 640.0,431.2 C645.2,429.7 648.0,429.8 651.4,429.9 C654.8,430.0 657.6,430.4 660.3,431.6 C663.0,432.8 665.5,434.9 667.5,437.0 C669.5,439.1 671.1,442.1 672.0,444.2 C672.9,446.3 673.0,448.0 672.9,449.6 C672.8,451.2 672.5,452.7 671.1,454.0 C669.8,455.3 667.3,456.7 664.8,457.6 C662.2,458.5 659.9,458.4 655.8,459.4 C651.7,460.4 646.0,462.0 640.0,463.4 C634.0,464.8 626.7,466.0 620.0,467.5 C613.3,469.0 606.7,470.9 600.0,472.4 C593.3,473.8 586.7,474.8 580.0,476.2 C573.3,477.6 566.7,478.6 560.0,480.5 C553.3,482.4 546.7,485.1 540.0,487.5 C533.3,489.9 526.7,492.6 520.0,494.9 C513.3,497.2 506.7,499.3 500.0,501.3 C493.3,503.3 486.7,504.8 480.0,506.8 C473.3,508.9 466.7,511.5 460.0,513.6 C453.3,515.7 446.7,517.2 440.0,519.4 C433.3,521.6 425.8,524.4 420.0,526.8 C414.2,529.1 410.0,532.0 405.0,533.5 C400.0,535.0 393.8,535.6 390.0,536.0 C386.2,536.4 384.2,536.1 382.0,535.6 C379.8,535.1 378.0,534.3 376.5,533.2 C375.0,532.1 373.7,530.8 372.8,529.0 C371.9,527.2 371.3,524.6 371.2,522.5Z" fill="url(#yg0)"/>
</g><g>
<path d="M47.6,961.3 C47.5,957.0 48.6,953.5 49.5,950.5 C50.4,947.5 51.1,945.9 52.7,943.5 C54.3,941.1 56.9,938.0 59.0,935.9 C61.1,933.8 63.3,932.2 65.4,930.8 C67.5,929.4 69.3,928.6 71.7,927.6 C74.1,926.6 75.3,926.2 80.0,924.5 C84.7,922.8 93.3,920.0 100.0,917.5 C106.7,915.0 113.3,912.2 120.0,909.6 C126.7,907.0 133.3,904.1 140.0,901.7 C146.7,899.4 153.3,897.9 160.0,895.5 C166.7,893.1 173.3,890.2 180.0,887.5 C186.7,884.8 193.3,882.0 200.0,879.5 C206.7,877.0 213.3,874.6 220.0,872.3 C226.7,870.0 233.3,867.8 240.0,865.7 C246.7,863.6 253.3,861.3 260.0,859.8 C266.7,858.2 273.3,857.5 280.0,856.4 C286.7,855.3 293.3,854.0 300.0,853.0 C306.7,852.0 313.3,851.0 320.0,850.4 C326.7,849.8 333.3,849.3 340.0,849.6 C346.7,849.9 355.2,851.4 360.0,852.2 C364.8,853.1 365.9,853.6 368.8,854.7 C371.7,855.9 375.0,857.4 377.6,859.1 C380.2,860.9 382.6,863.0 384.6,865.2 C386.7,867.4 388.4,869.8 389.9,872.3 C391.4,874.8 392.9,877.7 393.8,880.2 C394.8,882.7 395.3,885.2 395.6,887.2 C395.9,889.2 395.8,890.5 395.6,892.5 C395.4,894.5 395.1,896.9 394.3,899.5 C393.5,902.1 392.4,905.4 390.8,908.3 C389.2,911.2 386.8,914.6 384.6,917.1 C382.4,919.6 380.2,921.5 377.6,923.2 C375.0,925.0 371.7,926.3 368.8,927.6 C365.9,928.9 364.8,929.0 360.0,930.8 C355.2,932.6 346.7,935.7 340.0,938.2 C333.3,940.7 326.7,943.1 320.0,946.0 C313.3,948.9 306.7,952.7 300.0,955.5 C293.3,958.3 286.7,960.8 280.0,963.0 C273.3,965.2 266.7,966.6 260.0,968.5 C253.3,970.4 246.7,972.6 240.0,974.4 C233.3,976.2 226.7,977.8 220.0,979.2 C213.3,980.6 206.7,981.3 200.0,982.6 C193.3,983.9 186.7,985.5 180.0,987.0 C173.3,988.5 166.7,990.2 160.0,991.5 C153.3,992.8 146.7,993.8 140.0,994.5 C133.3,995.2 126.7,995.5 120.0,995.9 C113.3,996.2 106.7,996.5 100.0,996.6 C93.3,996.7 84.5,996.7 80.0,996.4 C75.5,996.1 75.4,995.7 73.0,994.9 C70.6,994.1 68.2,993.3 65.4,991.7 C62.7,990.1 59.0,987.9 56.5,985.4 C54.0,982.9 51.7,980.5 50.2,976.5 C48.7,972.5 47.7,965.6 47.6,961.3Z" fill="#6bc751"/>
<path d="M92.0,948.0 C93.3,947.3 95.3,946.4 100.0,943.9 C104.7,941.4 113.3,937.1 120.0,933.3 C126.7,929.5 133.3,924.3 140.0,921.0 C146.7,917.7 153.3,915.7 160.0,913.3 C166.7,910.9 173.3,909.1 180.0,906.5 C186.7,903.9 193.3,900.3 200.0,897.5 C206.7,894.7 213.3,891.9 220.0,889.6 C226.7,887.3 233.3,885.7 240.0,883.5 C246.7,881.3 253.3,878.4 260.0,876.5 C266.7,874.6 273.3,873.4 280.0,872.1 C286.7,870.9 293.3,870.2 300.0,869.0 C306.7,867.8 313.3,866.2 320.0,864.9 C326.7,863.6 333.3,862.1 340.0,861.4 C346.7,860.7 355.0,860.5 360.0,860.5 C365.0,860.5 368.3,861.3 370.0,861.5 L386.4,903.0 C384.2,904.2 377.6,908.3 373.2,910.1 C368.8,911.9 365.5,912.5 360.0,914.0 C354.5,915.5 346.7,917.4 340.0,919.4 C333.3,921.4 326.7,923.0 320.0,926.0 C313.3,929.0 306.7,934.1 300.0,937.5 C293.3,940.9 286.7,944.1 280.0,946.6 C273.3,949.1 266.7,950.4 260.0,952.5 C253.3,954.6 246.7,957.1 240.0,959.4 C233.3,961.7 226.7,964.3 220.0,966.2 C213.3,968.1 206.7,969.2 200.0,971.0 C193.3,972.8 186.7,975.5 180.0,977.0 C173.3,978.5 166.7,979.5 160.0,980.3 C153.3,981.1 146.7,981.3 140.0,981.7 C133.3,982.1 126.0,982.8 120.0,982.8 C114.0,982.8 106.7,981.7 104.0,981.5 L90.0,962.0 L92.0,948.0Z" fill="#9ddb5c"/>
<path d="M92.0,948.0 C93.3,947.3 95.3,946.4 100.0,943.9 C104.7,941.4 113.3,937.1 120.0,933.3 C126.7,929.5 133.3,924.3 140.0,921.0 C146.7,917.7 153.3,915.7 160.0,913.3 C166.7,910.9 173.3,909.1 180.0,906.5 C186.7,903.9 193.3,900.3 200.0,897.5 C206.7,894.7 213.3,891.9 220.0,889.6 C226.7,887.3 233.3,885.7 240.0,883.5 C246.7,881.3 253.3,878.4 260.0,876.5 C266.7,874.6 273.3,873.4 280.0,872.1 C286.7,870.9 293.3,870.2 300.0,869.0 C306.7,867.8 313.3,866.2 320.0,864.9 C326.7,863.6 333.3,862.1 340.0,861.4 C346.7,860.7 355.0,860.5 360.0,860.5 C365.0,860.5 368.3,861.3 370.0,861.5 L386.4,903.0 C384.2,904.2 377.6,908.3 373.2,910.1 C368.8,911.9 365.5,912.5 360.0,914.0 C354.5,915.5 346.7,917.4 340.0,919.4 C333.3,921.4 326.7,923.0 320.0,926.0 C313.3,929.0 306.7,934.1 300.0,937.5 C293.3,940.9 286.7,944.1 280.0,946.6 C273.3,949.1 266.7,950.4 260.0,952.5 C253.3,954.6 246.7,957.1 240.0,959.4 C233.3,961.7 226.7,964.3 220.0,966.2 C213.3,968.1 206.7,969.2 200.0,971.0 C193.3,972.8 186.7,975.5 180.0,977.0 C173.3,978.5 166.7,979.5 160.0,980.3 C153.3,981.1 146.7,981.3 140.0,981.7 C133.3,982.1 126.0,982.8 120.0,982.8 C114.0,982.8 106.7,981.7 104.0,981.5 L90.0,962.0 L92.0,948.0Z" fill="url(#dotpat1)"/>
<path d="M92.0,948.0 C93.3,947.3 95.3,946.4 100.0,943.9 C104.7,941.4 113.3,937.1 120.0,933.3 C126.7,929.5 133.3,924.3 140.0,921.0 C146.7,917.7 153.3,915.7 160.0,913.3 C166.7,910.9 173.3,909.1 180.0,906.5 C186.7,903.9 193.3,900.3 200.0,897.5 C206.7,894.7 213.3,891.9 220.0,889.6 C226.7,887.3 233.3,885.7 240.0,883.5 C246.7,881.3 253.3,878.4 260.0,876.5 C266.7,874.6 273.3,873.4 280.0,872.1 C286.7,870.9 293.3,870.2 300.0,869.0 C306.7,867.8 313.3,866.2 320.0,864.9 C326.7,863.6 333.3,862.1 340.0,861.4 C346.7,860.7 355.0,860.5 360.0,860.5 C365.0,860.5 368.3,861.3 370.0,861.5" fill="none" stroke="#c6ea74" stroke-width="1.8"/>
<path d="M386.4,903.0 C384.2,904.2 377.6,908.3 373.2,910.1 C368.8,911.9 365.5,912.5 360.0,914.0 C354.5,915.5 346.7,917.4 340.0,919.4 C333.3,921.4 326.7,923.0 320.0,926.0 C313.3,929.0 306.7,934.1 300.0,937.5 C293.3,940.9 286.7,944.1 280.0,946.6 C273.3,949.1 266.7,950.4 260.0,952.5 C253.3,954.6 246.7,957.1 240.0,959.4 C233.3,961.7 226.7,964.3 220.0,966.2 C213.3,968.1 206.7,969.2 200.0,971.0 C193.3,972.8 186.7,975.5 180.0,977.0 C173.3,978.5 166.7,979.5 160.0,980.3 C153.3,981.1 146.7,981.3 140.0,981.7 C133.3,982.1 126.7,982.3 120.0,982.8 C113.3,983.3 106.7,984.2 100.0,984.7 C93.3,985.2 83.3,985.8 80.0,986.0" fill="none" stroke="#c6ea74" stroke-width="1.8"/>
<path d="M68.6,963.8 C68.6,961.2 69.3,958.4 70.5,956.5 C71.7,954.6 74.0,953.2 75.6,952.4 C77.2,951.6 75.9,952.2 80.0,951.7 C84.1,951.2 93.3,950.6 100.0,949.1 C106.7,947.6 113.3,945.4 120.0,943.0 C126.7,940.6 133.3,936.8 140.0,934.5 C146.7,932.2 153.3,930.8 160.0,929.0 C166.7,927.2 173.3,925.9 180.0,924.0 C186.7,922.1 193.3,919.7 200.0,917.5 C206.7,915.3 213.3,912.8 220.0,910.7 C226.7,908.6 233.3,906.9 240.0,904.7 C246.7,902.6 253.3,899.9 260.0,897.8 C266.7,895.7 273.3,893.7 280.0,892.0 C286.7,890.3 293.3,889.3 300.0,887.5 C306.7,885.7 313.3,883.4 320.0,881.0 C326.7,878.6 333.3,875.0 340.0,873.0 C346.7,871.0 354.5,869.1 360.0,868.7 C365.5,868.3 369.8,869.5 373.2,870.5 C376.6,871.5 378.4,873.0 380.2,874.9 C381.9,876.8 383.1,879.7 383.7,881.9 C384.3,884.1 384.3,886.0 383.7,888.1 C383.1,890.2 381.9,892.6 380.2,894.2 C378.4,895.8 376.6,896.5 373.2,897.7 C369.8,898.9 365.5,899.7 360.0,901.2 C354.5,902.7 346.7,905.0 340.0,906.5 C333.3,908.0 326.7,909.0 320.0,910.5 C313.3,912.0 306.7,914.0 300.0,915.5 C293.3,917.0 286.7,918.1 280.0,919.5 C273.3,920.9 266.7,922.0 260.0,924.0 C253.3,926.0 246.7,929.2 240.0,931.5 C233.3,933.8 226.7,935.7 220.0,937.5 C213.3,939.3 206.7,940.4 200.0,942.5 C193.3,944.6 186.7,947.8 180.0,950.0 C173.3,952.2 166.7,953.7 160.0,955.7 C153.3,957.7 146.7,959.5 140.0,962.0 C133.3,964.5 126.7,968.5 120.0,970.5 C113.3,972.5 106.7,973.4 100.0,974.2 C93.3,975.0 84.1,975.1 80.0,975.5 C75.9,975.9 77.2,977.1 75.6,976.5 C74.0,975.9 71.7,974.1 70.5,972.0 C69.3,969.9 68.6,966.4 68.6,963.8Z" fill="url(#yg1)"/>
</g><g>
<path d="M450.1,883.6 C450.2,881.1 450.6,879.4 451.5,877.1 C452.4,874.8 453.6,872.2 455.2,869.7 C456.8,867.2 458.6,864.5 460.8,862.3 C463.0,860.0 465.4,857.9 468.2,856.2 C471.0,854.5 474.7,853.0 477.5,852.1 C480.3,851.2 481.2,851.2 485.0,850.7 C488.8,850.2 494.2,849.5 500.0,849.4 C505.8,849.3 513.3,849.6 520.0,850.0 C526.7,850.4 533.3,851.1 540.0,851.7 C546.7,852.4 553.3,853.0 560.0,853.9 C566.7,854.8 573.3,855.9 580.0,857.1 C586.7,858.3 593.3,859.5 600.0,861.0 C606.7,862.5 613.3,864.4 620.0,866.3 C626.7,868.2 633.3,870.0 640.0,872.3 C646.7,874.6 653.3,877.3 660.0,880.0 C666.7,882.7 673.3,885.7 680.0,888.3 C686.7,890.9 693.3,893.3 700.0,895.8 C706.7,898.3 713.3,901.0 720.0,903.2 C726.7,905.4 735.0,907.5 740.0,909.2 C745.0,910.9 746.8,911.8 750.2,913.3 C753.6,914.8 757.1,916.2 760.5,917.9 C763.9,919.6 767.3,921.6 770.7,923.6 C774.1,925.6 777.6,927.5 781.0,929.7 C784.4,931.9 788.3,934.5 791.2,936.9 C794.1,939.3 796.4,941.7 798.4,944.1 C800.4,946.5 802.2,948.7 803.5,951.3 C804.8,953.9 805.7,957.0 806.1,959.5 C806.5,962.0 806.5,964.0 806.1,966.6 C805.7,969.2 804.8,972.3 803.5,974.9 C802.2,977.5 800.4,979.8 798.4,982.0 C796.4,984.2 794.1,986.4 791.2,988.2 C788.3,990.0 784.4,991.6 781.0,992.8 C777.6,994.0 774.1,994.7 770.7,995.4 C767.3,996.1 763.9,996.6 760.5,996.9 C757.1,997.2 753.6,997.5 750.2,997.4 C746.8,997.3 745.0,997.1 740.0,996.5 C735.0,995.9 726.7,994.8 720.0,993.8 C713.3,992.8 706.7,991.5 700.0,990.5 C693.3,989.5 686.7,989.1 680.0,987.7 C673.3,986.3 666.7,983.8 660.0,982.2 C653.3,980.6 646.7,979.8 640.0,978.3 C633.3,976.8 626.7,975.1 620.0,973.2 C613.3,971.3 606.7,968.9 600.0,967.0 C593.3,965.1 586.7,963.7 580.0,961.8 C573.3,959.9 566.7,957.8 560.0,955.5 C553.3,953.2 546.7,950.2 540.0,948.0 C533.3,945.8 526.7,944.1 520.0,942.0 C513.3,939.9 505.8,938.0 500.0,935.5 C494.2,933.0 488.8,929.4 485.0,927.2 C481.2,925.1 480.3,924.5 477.5,922.6 C474.7,920.8 471.1,918.4 468.2,916.1 C465.2,913.8 462.1,911.3 459.8,908.7 C457.5,906.1 455.8,903.1 454.3,900.3 C452.8,897.5 451.7,894.8 451.0,892.0 C450.3,889.2 450.0,886.1 450.1,883.6Z" fill="#6bc751"/>
<path d="M470.0,861.0 C471.1,860.8 474.1,859.9 476.6,859.5 C479.1,859.1 481.1,858.7 485.0,858.6 C488.9,858.5 494.2,858.3 500.0,858.8 C505.8,859.3 513.3,860.4 520.0,861.7 C526.7,863.0 533.3,865.0 540.0,866.4 C546.7,867.8 553.3,869.1 560.0,870.4 C566.7,871.7 573.3,872.9 580.0,874.2 C586.7,875.6 593.3,876.6 600.0,878.5 C606.7,880.4 613.3,883.2 620.0,885.3 C626.7,887.4 633.3,889.2 640.0,891.3 C646.7,893.4 653.3,895.4 660.0,898.0 C666.7,900.6 673.3,904.5 680.0,907.0 C686.7,909.5 693.3,910.9 700.0,913.2 C706.7,915.5 713.3,917.9 720.0,921.0 C726.7,924.1 735.0,929.3 740.0,931.8 C745.0,934.3 746.8,934.0 750.2,935.9 C753.6,937.8 758.8,941.9 760.5,943.1 L770.7,983.1 C768.2,983.6 760.5,985.8 755.4,986.1 C750.3,986.4 745.9,985.8 740.0,985.1 C734.1,984.4 726.7,982.7 720.0,981.7 C713.3,980.7 706.7,980.1 700.0,979.2 C693.3,978.3 686.7,978.1 680.0,976.5 C673.3,974.9 666.7,971.7 660.0,969.7 C653.3,967.7 646.7,966.3 640.0,964.4 C633.3,962.5 626.7,960.8 620.0,958.5 C613.3,956.2 606.7,952.8 600.0,950.4 C593.3,948.0 586.7,946.2 580.0,944.0 C573.3,941.8 566.7,939.8 560.0,937.0 C553.3,934.2 546.7,930.2 540.0,927.5 C533.3,924.8 526.7,922.8 520.0,920.9 C513.3,919.0 505.3,918.5 500.0,916.0 C494.7,913.5 490.0,907.7 488.0,906.0 L472.0,882.0 L470.0,861.0Z" fill="#9ddb5c"/>
<path d="M470.0,861.0 C471.1,860.8 474.1,859.9 476.6,859.5 C479.1,859.1 481.1,858.7 485.0,858.6 C488.9,858.5 494.2,858.3 500.0,858.8 C505.8,859.3 513.3,860.4 520.0,861.7 C526.7,863.0 533.3,865.0 540.0,866.4 C546.7,867.8 553.3,869.1 560.0,870.4 C566.7,871.7 573.3,872.9 580.0,874.2 C586.7,875.6 593.3,876.6 600.0,878.5 C606.7,880.4 613.3,883.2 620.0,885.3 C626.7,887.4 633.3,889.2 640.0,891.3 C646.7,893.4 653.3,895.4 660.0,898.0 C666.7,900.6 673.3,904.5 680.0,907.0 C686.7,909.5 693.3,910.9 700.0,913.2 C706.7,915.5 713.3,917.9 720.0,921.0 C726.7,924.1 735.0,929.3 740.0,931.8 C745.0,934.3 746.8,934.0 750.2,935.9 C753.6,937.8 758.8,941.9 760.5,943.1 L770.7,983.1 C768.2,983.6 760.5,985.8 755.4,986.1 C750.3,986.4 745.9,985.8 740.0,985.1 C734.1,984.4 726.7,982.7 720.0,981.7 C713.3,980.7 706.7,980.1 700.0,979.2 C693.3,978.3 686.7,978.1 680.0,976.5 C673.3,974.9 666.7,971.7 660.0,969.7 C653.3,967.7 646.7,966.3 640.0,964.4 C633.3,962.5 626.7,960.8 620.0,958.5 C613.3,956.2 606.7,952.8 600.0,950.4 C593.3,948.0 586.7,946.2 580.0,944.0 C573.3,941.8 566.7,939.8 560.0,937.0 C553.3,934.2 546.7,930.2 540.0,927.5 C533.3,924.8 526.7,922.8 520.0,920.9 C513.3,919.0 505.3,918.5 500.0,916.0 C494.7,913.5 490.0,907.7 488.0,906.0 L472.0,882.0 L470.0,861.0Z" fill="url(#dotpat0)"/>
<path d="M470.0,861.0 C471.1,860.8 474.1,859.9 476.6,859.5 C479.1,859.1 481.1,858.7 485.0,858.6 C488.9,858.5 494.2,858.3 500.0,858.8 C505.8,859.3 513.3,860.4 520.0,861.7 C526.7,863.0 533.3,865.0 540.0,866.4 C546.7,867.8 553.3,869.1 560.0,870.4 C566.7,871.7 573.3,872.9 580.0,874.2 C586.7,875.6 593.3,876.6 600.0,878.5 C606.7,880.4 613.3,883.2 620.0,885.3 C626.7,887.4 633.3,889.2 640.0,891.3 C646.7,893.4 653.3,895.4 660.0,898.0 C666.7,900.6 673.3,904.5 680.0,907.0 C686.7,909.5 693.3,910.9 700.0,913.2 C706.7,915.5 713.3,917.9 720.0,921.0 C726.7,924.1 735.0,929.3 740.0,931.8 C745.0,934.3 746.8,934.0 750.2,935.9 C753.6,937.8 758.8,941.9 760.5,943.1" fill="none" stroke="#c6ea74" stroke-width="1.8"/>
<path d="M770.7,983.1 C768.2,983.6 760.5,985.8 755.4,986.1 C750.3,986.4 745.9,985.8 740.0,985.1 C734.1,984.4 726.7,982.7 720.0,981.7 C713.3,980.7 706.7,980.1 700.0,979.2 C693.3,978.3 686.7,978.1 680.0,976.5 C673.3,974.9 666.7,971.7 660.0,969.7 C653.3,967.7 646.7,966.3 640.0,964.4 C633.3,962.5 626.7,960.8 620.0,958.5 C613.3,956.2 606.7,952.8 600.0,950.4 C593.3,948.0 586.7,946.2 580.0,944.0 C573.3,941.8 566.7,939.8 560.0,937.0 C553.3,934.2 546.7,930.2 540.0,927.5 C533.3,924.8 526.7,922.8 520.0,920.9 C513.3,919.0 505.8,917.7 500.0,916.0 C494.2,914.3 490.3,912.3 485.0,910.5 C479.7,908.7 473.2,906.9 468.2,905.0 C463.2,903.1 457.4,900.3 455.2,899.4" fill="none" stroke="#c6ea74" stroke-width="1.8"/>
<path d="M460.3,882.7 C460.3,880.6 461.2,877.9 462.5,876.0 C463.8,874.1 465.7,873.0 468.2,871.6 C470.7,870.2 474.7,868.6 477.5,867.8 C480.3,867.0 481.2,866.5 485.0,866.9 C488.8,867.2 494.2,868.5 500.0,869.9 C505.8,871.3 513.3,873.4 520.0,875.2 C526.7,877.1 533.3,879.0 540.0,881.0 C546.7,883.0 553.3,885.7 560.0,887.5 C566.7,889.3 573.3,890.4 580.0,892.0 C586.7,893.6 593.3,894.8 600.0,897.0 C606.7,899.2 613.3,902.8 620.0,905.0 C626.7,907.2 633.3,908.5 640.0,910.4 C646.7,912.3 653.3,914.1 660.0,916.3 C666.7,918.5 673.3,921.5 680.0,923.5 C686.7,925.5 693.3,926.6 700.0,928.4 C706.7,930.2 713.3,932.2 720.0,934.5 C726.7,936.8 735.0,940.4 740.0,942.0 C745.0,943.6 746.8,943.4 750.2,944.1 C753.6,944.8 757.1,945.4 760.5,946.1 C763.9,946.8 767.6,947.2 770.7,948.2 C773.8,949.2 776.8,950.6 779.0,952.3 C781.2,954.0 783.1,956.3 784.1,958.4 C785.1,960.5 785.3,962.5 785.1,964.6 C784.9,966.7 784.5,968.9 783.0,970.8 C781.5,972.7 778.8,974.9 775.9,975.9 C773.0,976.9 769.9,976.9 765.6,976.9 C761.3,976.9 754.5,976.7 750.2,975.9 C745.9,975.1 745.0,974.1 740.0,972.0 C735.0,969.9 726.7,966.1 720.0,963.5 C713.3,960.9 706.7,958.6 700.0,956.3 C693.3,953.9 686.7,951.7 680.0,949.4 C673.3,947.1 666.7,944.6 660.0,942.5 C653.3,940.4 646.7,938.5 640.0,936.7 C633.3,934.9 626.7,933.6 620.0,931.5 C613.3,929.4 606.7,926.1 600.0,924.0 C593.3,921.9 586.7,920.3 580.0,918.7 C573.3,917.1 566.7,915.5 560.0,914.2 C553.3,912.9 546.7,912.2 540.0,911.0 C533.3,909.8 526.7,908.0 520.0,906.8 C513.3,905.6 505.8,905.3 500.0,903.9 C494.2,902.5 488.8,899.9 485.0,898.5 C481.2,897.1 480.3,896.8 477.5,895.7 C474.7,894.6 470.7,893.2 468.2,892.0 C465.7,890.8 463.8,890.0 462.5,888.5 C461.2,887.0 460.3,884.8 460.3,882.7Z" fill="url(#yg2)"/>
</g>
<path d="M159.4,321 Q162.4,311 176,309.8 L312,309.3 C320.33,309.3 323.9,314.655 323.9,321.2 C323.9,328.34 319.14,333.09999999999997 312,333.09999999999997 C308.3,333.1 302.0,333.1 290.0,333.0 C278.0,332.9 254.0,333.3 240.0,332.3 C226.0,331.3 215.4,328.3 206.0,326.8 C196.6,325.3 190.4,324.0 183.6,323.2 C176.8,322.4 169.0,322.4 165.0,322.0 C161.0,321.6 160.3,321.2 159.4,321.0Z" fill="#7f807e"/><path d="M503.7,337 Q506.7,330 518,327.6 L656.4,326.2 C664.52,326.2 668.0,331.42 668.0,337.8 C668.0,344.76 663.36,349.40000000000003 656.4,349.40000000000003 C650.3,349.3 631.4,349.2 620.0,349.0 C608.6,348.8 600.4,349.4 588.2,348.3 C576.0,347.2 558.9,343.7 546.8,342.1 C534.7,340.5 522.5,339.4 515.7,338.8 C508.9,338.2 508.0,338.6 506.0,338.3 C504.0,338.0 504.1,337.2 503.7,337.0Z" fill="#7f807e"/><path d="M695.6,329.2 Q698.6,321 710,318.5 L850,316.7 C857.98,316.7 861.4,321.73 861.4,328 C861.4,334.84 856.84,339.4 850,339.4 C843.3,339.3 821.5,339.2 810.0,339.0 C798.5,338.8 791.3,339.1 780.7,338.3 C770.1,337.5 758.1,335.4 746.4,334.2 C734.6,333.0 718.3,331.5 710.2,330.9 C702.1,330.3 700.4,330.7 698.0,330.4 C695.6,330.1 696.0,329.4 695.6,329.2Z" fill="#7f807e"/><path d="M54.9,755.9 Q57.9,748.5 68,746.5 L205.5,744.9 C213.34,744.9 216.7,749.94 216.7,756.1 C216.7,762.82 212.22,767.3000000000001 205.5,767.3000000000001 C199.6,767.3 181.2,767.3 170.0,767.3 C158.8,767.3 149.7,768.2 138.2,767.3 C126.7,766.4 113.0,763.6 100.9,762.1 C88.8,760.6 73.0,759.0 65.7,758.2 C58.4,757.4 58.8,757.8 57.0,757.4 C55.2,757.0 55.2,756.1 54.9,755.9Z" fill="#7f807e"/><line x1="311.7" y1="233.2" x2="368.6" y2="232.0" stroke="#111" stroke-width="2.2"/><path d="M379.6,231.8 L362.5,225.2 L367.6,232.0 L362.7,239.1Z" fill="#111"/><line x1="357.4" y1="314.8" x2="465.7" y2="383.9" stroke="#111" stroke-width="2.2"/><path d="M475,389.8 L464.4,374.8 L464.9,383.3 L456.9,386.6Z" fill="#111"/><line x1="237.5" y1="462.8" x2="363.2" y2="462.8" stroke="#111" stroke-width="2.2"/><path d="M374.2,462.8 L357.2,455.8 L362.2,462.8 L357.2,469.8Z" fill="#111"/><line x1="230.3" y1="747" x2="402.1" y2="841.5" stroke="#111" stroke-width="2.2"/><path d="M411.7,846.8 L400.2,832.5 L401.2,841.0 L393.4,844.7Z" fill="#111"/><line x1="669.5" y1="692.6" x2="458.8" y2="850.8" stroke="#111" stroke-width="2.2"/><path d="M611.9,65.7 C612.1,62.9 612.5,58.7 615.0,56.0 C617.5,53.3 621.3,51.1 627.1,49.5 C632.9,47.9 640.5,47.3 650.0,46.5 C659.5,45.7 675.0,44.9 684.2,44.7 C693.4,44.5 699.7,44.8 705.0,45.3 C710.3,45.8 713.0,46.4 716.0,47.5 C719.0,48.6 721.2,50.2 723.0,52.0 C724.8,53.8 726.2,55.8 726.8,58.0 C727.4,60.2 727.2,62.8 726.5,65.0 C725.8,67.2 724.6,69.2 722.5,71.0 C720.4,72.8 717.8,74.2 714.0,75.5 C710.2,76.8 705.0,78.1 700.0,79.0 C695.0,79.9 690.9,80.3 684.2,80.9 C677.5,81.5 666.4,82.2 660.0,82.5 C653.6,82.8 651.1,83.0 646.1,82.8 C641.1,82.6 634.1,82.1 630.0,81.5 C625.9,80.9 624.1,80.4 621.4,79.0 C618.7,77.6 615.6,75.2 614.0,73.0 C612.4,70.8 611.7,68.5 611.9,65.7Z" fill="#72c443"/><path d="M619.5,57 C612,50 597,36 596,24 C595,14 601,11 606,12 C613,14 617,25 619,36 C621,45 621,52 619.5,57Z" fill="#5a2f24"/><path d="M613,63.5 C605,63 590,61 583,57 C577,53 578,46 584,45.5 C592,45 603,52 608,56 C611,58.5 613,61 613,63.5Z" fill="#5a2f24"/><path d="M612,65 L596,76 M611,66.5 L598,77.5" stroke="#c8d870" stroke-width="0.8" fill="none"/><path d="M586.7,322.0 C586.8,315.0 587.0,293.7 587.5,280.0 C588.0,266.3 588.1,253.7 589.5,240.0 C590.9,226.3 592.8,211.3 596.0,198.0 C599.2,184.7 603.8,170.7 608.6,160.0 C613.4,149.3 618.9,141.2 625.0,134.0 C631.1,126.8 637.8,121.2 645.0,117.0 C652.2,112.8 660.5,110.1 668.0,108.5 C675.5,106.9 682.7,106.8 690.0,107.5 C697.3,108.2 705.2,110.0 712.0,113.0 C718.8,116.0 726.7,121.6 731.0,125.5 C735.3,129.4 733.9,132.1 738.0,136.5 C742.1,140.9 750.9,146.9 755.4,151.7 C759.9,156.4 762.6,160.1 765.0,165.0 C767.4,169.9 768.8,178.3 769.6,181.0" fill="none" stroke="#1e1e1e" stroke-width="2.1" stroke-linecap="round"/><circle cx="731" cy="125" r="2.8" fill="#1e1e1e"/><defs><linearGradient id="rag" x1="0" y1="0" x2="1" y2="0"><stop offset="0" stop-color="#8e3517"/><stop offset="1" stop-color="#c24e1c"/></linearGradient></defs><path d="M683.3,129 L725.5,129 L727,127.5 L737.4,137.5 L727.5,149 L725.5,145.5 L683.3,145.5Z" fill="url(#rag)"/><path d="M769.6,180.3 C769.8,180.8 770.3,180.0 771.0,183.2 C771.7,186.4 773.0,194.4 774.0,199.3 C775.0,204.2 776.7,208.8 776.9,212.5 C777.1,216.2 776.6,217.6 775.4,221.3 C774.2,225.0 771.2,230.1 769.6,234.5 C768.0,238.9 766.6,243.3 765.9,247.7 C765.2,252.1 765.1,256.2 765.2,260.8 C765.3,265.4 765.4,270.9 766.6,275.5 C767.8,280.1 770.8,284.8 772.5,288.7 C774.2,292.6 776.2,294.3 776.9,298.9 C777.6,303.5 776.9,313.6 776.9,316.5" fill="none" stroke="#74c63e" stroke-width="3" stroke-linecap="round"/><path d="M774.0,228.6 C774.2,231.5 774.2,241.3 775.4,246.2 C776.6,251.1 779.1,254.5 781.3,257.9 C783.5,261.3 787.0,264.3 788.6,266.7 C790.2,269.1 790.6,271.1 791.0,272.0" fill="none" stroke="#86b448" stroke-width="1.3" stroke-linecap="round"/><g fill="none" stroke="#8c8444" stroke-width="1" opacity="0.9"><circle cx="754" cy="229" r="4.5"/><path d="M750,223 l2,-4 l4,1 l1,4"/><path d="M766,243 C762,236 752,234 747,239 C743,244 746,252 754,253 C758,253.5 760,251 759,249"/><path d="M776,240 C779,238 782,240 784,238 M778,244 l6,-3"/><path d="M788,265 C785,258 787,252 792,251 C797,250 799,255 797,259 M792,251 l2,-4 l4,1"/><path d="M790,270 C796,272 798,280 795,286 C792,292 786,292 784,287 C782,282 786,278 790,280"/><path d="M784,287 C782,292 784,298 789,299 C793,300 795,296 794,293"/></g><path d="M745,262 C750,260 755,262 760,263 C763,266 760,272 758,275 C762,276 765,277 766,276 M764,278 C760,284 756,289 753,293" fill="none" stroke="#a8583a" stroke-width="1.1" opacity="0.9"/><path d="M252.3,194.9 C251.8,197.7 249.9,204.7 249.5,211.4 C249.1,218.1 249.2,228.1 249.7,235.1 C250.2,242.1 251.5,247.8 252.3,253.5 C253.1,259.2 253.1,264.9 254.3,269.3 C255.5,273.7 258.3,275.3 259.5,279.9 C260.7,284.5 261.2,292.1 261.5,297.0 C261.8,301.9 261.5,307.0 261.5,309.0" fill="none" stroke="#76c63e" stroke-width="3" stroke-linecap="round"/><g fill="none" stroke="#6c625a" stroke-width="0.9" opacity="0.9"><path d="M244,223 L248,232 L250,240"/><path d="M249,242 C244,240 236,241 235,246 C234,251 240,252 243,249 C246,246 244,242 240,243"/><path d="M243,251 C247,253 249,257 246,259 C242,261 238,258 239,255"/><path d="M246,262 C240,261 234,264 234,269 C234,274 240,276 244,273 C247,270 245,266 241,267"/><path d="M240,276 C238,279 240,282 244,282 C248,282 249,278 246,276"/><path d="M259,214 L266,211 M262,207 C264,212 268,216 272,220 C275,224 272,228 267,226 C262,224 260,220 264,218"/><path d="M266,230 C263,233 264,240 268,243 C272,246 278,244 279,240"/><path d="M259,250 L266,252 L271,249 M266,252 C267,256 269,260 273,263"/></g><g transform="translate(100.3,224.2) rotate(-20.5)"><path d="M-36,1.5 C-36,-4 -28,-8 -12,-9.5 C0,-10.5 14,-10.5 26,-10 C33,-9.5 37,-5 37,0 C37,5.5 33,9 26,9 L-12,9.5 C-28,9.5 -36,7 -36,1.5Z" fill="#5ec03e"/><path d="M-30,1.5 C-30,-2.5 -22,-5.5 -10,-6 L27,-6.5 C31,-6.5 32,-3 32,0 C32,3 30,5 26,5 L-10,5.5 C-22,5.5 -30,4.5 -30,1.5Z" fill="#92d24a"/><path d="M-25,1.5 C-24,-0.5 -18,-2.5 -8,-2.8 L23,-3.5 C26,-3.5 27,-2 27,-0.5 C27,1 26,2 23,2 L-8,3 C-18,3 -25,3 -25,1.5Z" fill="#c6e44c"/></g><path d="M125.6,242.9 C127.5,242.7 132.1,242.2 136.8,241.8 C141.5,241.4 148.9,241.3 153.6,240.7 C158.3,240.1 161.1,238.7 164.8,238.4 C168.5,238.1 172.3,238.7 176.0,239.0 C179.7,239.3 182.7,240.0 187.2,240.1 C191.7,240.2 200.4,239.4 203.0,239.3" fill="none" stroke="#7a2e2a" stroke-width="2.6" stroke-linecap="round"/><path d="M125.6,242.9 C127.5,242.7 132.1,242.2 136.8,241.8 C141.5,241.4 148.9,241.3 153.6,240.7 C158.3,240.1 161.1,238.7 164.8,238.4 C168.5,238.1 172.3,238.7 176.0,239.0 C179.7,239.3 182.7,240.0 187.2,240.1 C191.7,240.2 200.4,239.4 203.0,239.3" fill="none" stroke="#c09088" stroke-width="0.8" stroke-dasharray="3 4"/><path d="M210.7,237.9 L199.5,234.5 L203,239.3 L201.7,244.6Z" fill="#6e2624"/><path d="M144,246 C142,250 143,253 147,253 C150,253 151,249 150,245.5" fill="none" stroke="#7a7070" stroke-width="0.9"/><path d="M172.7,299.0 C170.7,298.8 164.3,298.1 160.6,297.5 C156.9,296.9 153.9,296.0 150.5,295.4 C147.1,294.8 143.8,294.6 140.4,293.9 C137.0,293.2 133.7,292.8 130.3,291.4 C126.9,290.0 123.6,288.1 120.2,285.4 C116.8,282.7 112.7,278.7 110.2,275.3 C107.7,271.9 106.3,268.7 105.1,265.2 C103.9,261.7 103.4,255.9 103.1,254.1" fill="none" stroke="#7a2e2a" stroke-width="1.5"/><path d="M102.1,244.5 L99.3,253 L102.8,251.2 L106.8,253Z" fill="#7a2a26"/><circle cx="139.3" cy="289.2" r="3.8" fill="none" stroke="#7a2e2a" stroke-width="1"/><path d="M155,297 C160,300 167,300.5 173,300.5 M157,295 C163,296.5 168,297 173,297.5" fill="none" stroke="#b08080" stroke-width="0.9" stroke-dasharray="2.5 1.5"/><path d="M265.3,344.4 L266.6,344.4 L268.0,344.3 L269.4,344.2 L270.8,344.1 L272.1,344.1 L273.3,344.4 L274.4,344.8 L275.4,345.6 L276.3,346.5 L277.1,347.6 L277.8,348.8 L278.6,350.0 L279.4,351.1 L280.3,352.0 L281.3,352.7 L282.4,353.1 L283.7,353.3 L285.0,353.3 L286.4,353.2 L287.8,353.0 L289.2,353.0 L290.5,353.0 L291.7,353.4 L292.7,353.9 L293.7,354.7 L294.5,355.7 L295.3,356.8 L296.1,358.0 L296.8,359.2 L297.7,360.3 L298.6,361.1 L299.6,361.7 L300.8,362.0 L302.1,362.2 L303.4,362.1 L304.8,362.0 L306.2,361.9 L307.6,361.9 L308.9,362.0 L310.0,362.4 L311.1,363.0 L312.0,363.9 L312.8,364.9 L313.6,366.1 L314.3,367.3 L315.1,368.4 L316.0,369.4 L316.9,370.2 L318.0,370.7 L319.2,371.0 L320.5,371.1 L321.9,371.0 L323.3,370.9 L324.7,370.7 L326.0,370.8 L327.3,371.0 L328.4,371.4 L329.4,372.1 L330.3,373.0 L331.1,374.1" fill="none" stroke="#7a2a2a" stroke-width="1.0"/><path d="M266.7,341.4 L267.5,342.4 L268.3,343.6 L269.1,344.8 L269.8,346.0 L270.7,347.0 L271.6,347.8 L272.7,348.4 L273.8,348.7 L275.1,348.9 L276.5,348.8 L277.9,348.7 L279.3,348.5 L280.6,348.5 L281.9,348.7 L283.1,349.1 L284.1,349.7 L285.0,350.6 L285.8,351.7 L286.6,352.8 L287.3,354.0 L288.1,355.2 L289.0,356.1 L289.9,356.9 L291.0,357.4 L292.2,357.7 L293.5,357.7 L294.9,357.7 L296.3,357.5 L297.7,357.4 L299.1,357.4 L300.3,357.7 L301.4,358.1 L302.4,358.8 L303.3,359.8 L304.1,360.9 L304.8,362.1 L305.6,363.3 L306.4,364.3 L307.3,365.3 L308.3,366.0 L309.4,366.4 L310.6,366.6 L312.0,366.6 L313.4,366.5 L314.8,366.4 L316.1,366.3 L317.5,366.4 L318.7,366.7 L319.7,367.2 L320.7,368.0 L321.5,369.0 L322.3,370.1 L323.1,371.3 L323.8,372.5 L324.7,373.5 L325.6,374.4 L326.6,375.0 L327.8,375.4 L329.0,375.5 L330.4,375.5" fill="none" stroke="#9a4040" stroke-width="0.9"/><path d="M259.7,339.8 L266.7,348.3 L266.4,343.1 L270.7,340.2Z" fill="#7a2424"/><path d="M341.5,380.1 L333.6,371.2 L333.9,376.3 L329.6,379.3Z" fill="#1a1a1a"/><path d="M630.6,364.3 L631.9,364.5 L633.3,364.6 L634.7,364.7 L636.1,364.8 L637.4,365.0 L638.5,365.4 L639.6,366.0 L640.4,366.8 L641.2,367.9 L641.8,369.1 L642.4,370.4 L643.0,371.7 L643.6,372.9 L644.4,373.9 L645.3,374.7 L646.3,375.3 L647.6,375.6 L648.9,375.8 L650.3,375.9 L651.7,376.0 L653.1,376.1 L654.3,376.3 L655.5,376.8 L656.5,377.5 L657.3,378.4 L658.0,379.5 L658.6,380.7 L659.2,382.0 L659.8,383.3 L660.5,384.4 L661.3,385.4 L662.2,386.1 L663.3,386.7 L664.5,387.0 L665.9,387.1 L667.3,387.2 L668.7,387.3 L670.0,387.4 L671.3,387.7 L672.4,388.2 L673.3,389.0 L674.1,389.9 L674.8,391.1 L675.4,392.3 L676.0,393.6 L676.6,394.9 L677.3,396.0 L678.1,396.9 L679.1,397.6 L680.2,398.0 L681.5,398.3 L682.9,398.4 L684.3,398.5 L685.7,398.6 L687.0,398.7 L688.2,399.1 L689.3,399.7 L690.2,400.5 L691.0,401.5" fill="none" stroke="#7a2a2a" stroke-width="1.0"/><path d="M632.4,361.6 L633.1,362.7 L633.7,363.9 L634.3,365.2 L634.9,366.5 L635.6,367.6 L636.4,368.6 L637.3,369.3 L638.5,369.8 L639.7,370.1 L641.1,370.2 L642.5,370.3 L643.9,370.4 L645.2,370.5 L646.4,370.8 L647.5,371.4 L648.5,372.1 L649.2,373.1 L649.9,374.3 L650.5,375.5 L651.1,376.8 L651.7,378.1 L652.4,379.2 L653.3,380.0 L654.3,380.7 L655.4,381.2 L656.7,381.4 L658.1,381.5 L659.5,381.6 L660.9,381.7 L662.2,381.9 L663.4,382.2 L664.4,382.8 L665.3,383.7 L666.1,384.7 L666.7,385.9 L667.3,387.2 L667.9,388.4 L668.5,389.6 L669.3,390.7 L670.2,391.5 L671.2,392.1 L672.4,392.5 L673.7,392.7 L675.1,392.8 L676.5,392.9 L677.9,393.0 L679.2,393.2 L680.3,393.6 L681.3,394.3 L682.2,395.2 L682.9,396.3 L683.5,397.5 L684.1,398.8 L684.7,400.0 L685.4,401.2 L686.1,402.2 L687.1,403.0 L688.1,403.5 L689.4,403.9" fill="none" stroke="#9a4040" stroke-width="0.9"/><path d="M625.7,359 L631.5,368.3 L631.9,363.2 L636.5,360.9Z" fill="#7a2424"/><path d="M700.1,409.4 L691.3,395.6 L689.8,402.4 L684.0,406.4Z" fill="#1a1a1a"/><path d="M170.3,789.8 L171.6,789.9 L172.9,789.9 L174.3,789.8 L175.6,789.8 L176.9,789.8 L178.1,790.1 L179.1,790.5 L180.1,791.2 L180.9,792.0 L181.7,793.1 L182.3,794.2 L183.0,795.4 L183.7,796.5 L184.5,797.5 L185.3,798.4 L186.3,799.0 L187.4,799.4 L188.6,799.6 L189.9,799.6 L191.2,799.6 L192.6,799.5 L193.9,799.5 L195.1,799.6 L196.2,800.0 L197.3,800.5 L198.1,801.3 L198.9,802.2 L199.6,803.4 L200.3,804.5 L201.0,805.7 L201.7,806.8 L202.5,807.7 L203.4,808.4 L204.4,808.9 L205.6,809.2 L206.8,809.3 L208.2,809.3 L209.5,809.2 L210.9,809.2 L212.1,809.2 L213.3,809.5 L214.4,809.9 L215.3,810.6 L216.2,811.5 L216.9,812.5 L217.6,813.6 L218.2,814.8 L218.9,816.0 L219.7,817.0 L220.5,817.8 L221.5,818.4 L222.6,818.8" fill="none" stroke="#7a2a2a" stroke-width="1.0"/><path d="M171.9,786.9 L172.7,787.9 L173.4,789.1 L174.0,790.3 L174.7,791.4 L175.4,792.5 L176.3,793.3 L177.2,794.0 L178.3,794.5 L179.5,794.7 L180.7,794.8 L182.1,794.7 L183.4,794.7 L184.7,794.6 L186.0,794.7 L187.2,795.0 L188.2,795.5 L189.1,796.2 L189.9,797.1 L190.6,798.2 L191.3,799.4 L192.0,800.5 L192.7,801.7 L193.5,802.6 L194.3,803.4 L195.4,804.0 L196.5,804.3 L197.7,804.5 L199.0,804.5 L200.4,804.4 L201.7,804.3 L203.0,804.4 L204.2,804.5 L205.3,804.9 L206.3,805.5 L207.2,806.4 L207.9,807.4 L208.6,808.5 L209.3,809.7 L209.9,810.8 L210.7,811.9 L211.5,812.7 L212.5,813.4 L213.5,813.9 L214.7,814.1 L216.0,814.2 L217.3,814.1 L218.7,814.1 L220.0,814.0 L221.2,814.1 L222.4,814.4 L223.4,814.9 L224.4,815.6" fill="none" stroke="#9a4040" stroke-width="0.9"/><path d="M165,785 L171.6,793.8 L171.6,788.6 L175.9,785.9Z" fill="#7a2424"/><path d="M234,823 L226.5,813.8 L226.6,818.9 L222.2,821.6Z" fill="#1a1a1a"/><path d="M683.1,442.4 C688.2,442.2 703.8,441.9 713.7,441.0 C723.7,440.1 734.3,439.1 742.8,437.3 C751.3,435.5 758.3,433.7 764.6,430.1 C770.9,426.5 777.0,421.1 780.6,415.5 C784.2,409.9 785.8,402.7 786.5,396.6 C787.2,390.5 786.0,386.4 785.0,379.1 C784.0,371.8 781.3,357.3 780.6,352.9" fill="none" stroke="#a9d24a" stroke-width="1.5" stroke-linecap="round"/><path d="M683.1,442.4 C688.2,442.2 703.8,441.9 713.7,441.0 C723.7,440.1 734.3,439.1 742.8,437.3 C751.3,435.5 758.3,433.7 764.6,430.1 C770.9,426.5 777.9,417.9 780.6,415.5" fill="none" stroke="#a9d24a" stroke-width="2.4" stroke-linecap="round"/><path d="M683.1,442.4 C688.2,442.2 703.8,441.9 713.7,441.0 C723.7,440.1 737.9,437.9 742.8,437.3" fill="none" stroke="#a9d24a" stroke-width="3.4" stroke-linecap="round"/><path d="M766,427 C768,420 771,416 774,412.5 M781,381 C779,378 777,377 776,378" fill="none" stroke="#a9d24a" stroke-width="1.2"/><path d="M350,522.5 Q343.6,534.4 335.5,541.5 Q343.6,537.4 353.5,536Z" fill="#c6de52"/><path d="M337.0,540.5 C335.2,541.5 329.2,544.4 326.0,546.5 C322.8,548.6 320.0,550.4 318.0,553.0 C316.0,555.6 314.8,559.0 314.2,562.0 C313.6,565.0 313.9,568.6 314.5,571.0 C315.1,573.4 317.0,575.4 317.5,576.3" fill="none" stroke="#bfd856" stroke-width="1.8" stroke-linecap="round"/><path d="M338.5,542.5 C337.8,543.8 335.5,547.5 334.0,550.0 C332.5,552.5 331.3,554.8 329.6,557.5 C327.9,560.2 325.7,563.7 324.0,566.5 C322.3,569.3 320.6,572.9 319.5,574.5 C318.4,576.1 317.8,576.0 317.5,576.3" fill="none" stroke="#b4c98a" stroke-width="1" stroke-linecap="round"/><path d="M47.3,962 Q40.1,975.0 31.1,982.5 Q40.1,978.0 51,977Z" fill="#c6de52"/><path d="M31.1,982.5 C28.9,983.8 21.5,987.7 18.1,990.5 C14.7,993.3 12.4,996.3 10.8,999.2 C9.2,1002.1 8.7,1004.9 8.7,1007.8 C8.7,1010.7 10.0,1014.6 10.8,1016.5 C11.6,1018.4 13.2,1018.9 13.7,1019.4" fill="none" stroke="#bfd856" stroke-width="1.8" stroke-linecap="round"/><path d="M34.7,983.9 C33.5,986.0 29.7,992.5 27.5,996.3 C25.3,1000.0 23.5,1003.0 21.7,1006.4 C19.9,1009.8 17.9,1014.3 16.6,1016.5 C15.3,1018.7 14.2,1018.9 13.7,1019.4" fill="none" stroke="#b4c98a" stroke-width="1" stroke-linecap="round"/><path d="M806,961 Q815.3,975.0 825.4,983.9 Q815.3,978.0 804.5,975Z" fill="#c6de52"/><path d="M825.4,983.9 C827.0,984.6 832.3,986.2 835.0,988.0 C837.7,989.8 840.2,991.8 841.6,994.7 C843.0,997.6 843.3,1001.5 843.3,1005.4 C843.3,1009.3 841.9,1015.9 841.6,1018.0" fill="none" stroke="#bfd856" stroke-width="1.8" stroke-linecap="round"/><path d="M818.3,985.7 C819.5,987.5 823.3,993.5 825.4,996.5 C827.5,999.5 829.2,1001.6 831.0,1004.0 C832.8,1006.4 834.4,1008.5 836.2,1010.8 C838.0,1013.1 840.7,1016.8 841.6,1018.0" fill="none" stroke="#b4c98a" stroke-width="1" stroke-linecap="round"/><path d="M394,880 C410,882 430,882 452,879 L452,885 C430,887 410,887 394,886Z" fill="#b8d85a"/><path d="M397,880.5 C415,883 435,882.5 450,880" fill="none" stroke="#d0e878" stroke-width="1"/><g><path d="M643.1,498.0 C643.9,499.3 645.9,503.2 648.0,506.0 C650.1,508.8 653.4,512.2 655.7,514.5 C658.0,516.8 659.6,518.1 662.0,519.5 C664.4,520.9 668.5,522.5 669.8,523.1" fill="none" stroke="#a6c060" stroke-width="1.8"/><path d="M648,503 l-4,2 M652,510 l4,-3" stroke="#a6c060" stroke-width="1"/><path d="M690.0,495.0 C691.7,495.2 696.7,496.2 700.0,496.0 C703.3,495.8 707.0,493.3 710.0,493.5 C713.0,493.7 715.0,496.3 718.0,497.0 C721.0,497.7 725.0,497.0 728.0,497.5 C731.0,498.0 733.7,499.1 736.0,500.0 C738.3,500.9 741.0,502.2 742.0,502.7" fill="none" stroke="#b8c890" stroke-width="1.2" stroke-dasharray="2 1"/><path d="M760.0,549.5 C762.5,549.6 770.0,549.6 775.0,550.0 C780.0,550.4 785.0,551.4 790.0,552.0 C795.0,552.6 800.0,552.8 805.0,553.5 C810.0,554.2 815.1,555.2 820.0,556.0 C824.9,556.8 832.2,557.8 834.6,558.2" fill="none" stroke="#b0d050" stroke-width="2"/><path d="M657,545 L672,548 M656,552 L673,553 M660,559 L675,556 M662,543 l-3,-3" stroke="#c8d8a0" stroke-width="1" stroke-dasharray="2 1.5"/><clipPath id="cc0"><path d="M670.5,512 C669,500 676,497 688,498.5 L696,499 C701,500 702,505 701.5,515 L701.5,556 C701,563 695,565.5 688,565 C681,564.5 678,561 677,552 C675,540 672,525 670.5,512Z"/><path d="M668,497 C667,490 673,488 679,489 C686,489.5 690,493 690,499 C690,505 687,511 680,512 C673,512.5 668.5,505 668,497Z"/><path d="M705.5,515 C705,507 709,503.5 716,503.5 C724,503.5 727.8,508 727.8,516 C727.8,525 725,532 718,533.3 C712,533.5 708,527 706,522 L705,517Z"/></clipPath><path d="M670.5,512 C669,500 676,497 688,498.5 L696,499 C701,500 702,505 701.5,515 L701.5,556 C701,563 695,565.5 688,565 C681,564.5 678,561 677,552 C675,540 672,525 670.5,512Z" fill="#7cc54b"/><path d="M668,497 C667,490 673,488 679,489 C686,489.5 690,493 690,499 C690,505 687,511 680,512 C673,512.5 668.5,505 668,497Z" fill="#55a93a"/><path d="M705.5,515 C705,507 709,503.5 716,503.5 C724,503.5 727.8,508 727.8,516 C727.8,525 725,532 718,533.3 C712,533.5 708,527 706,522 L705,517Z" fill="#6cbf46"/><g clip-path="url(#cc0)"><circle cx="686.4" cy="499.1" r="0.7" fill="#a6dc76"/><circle cx="699.8" cy="516.3" r="1.3" fill="#a6dc76"/><circle cx="679.5" cy="493.9" r="0.7" fill="#4e9c34"/><circle cx="671.7" cy="521.0" r="0.7" fill="#93d266"/><circle cx="680.1" cy="537.2" r="1.1" fill="#a6dc76"/><circle cx="691.0" cy="565.1" r="1.0" fill="#a6dc76"/><circle cx="674.4" cy="520.5" r="0.7" fill="#93d266"/><circle cx="685.4" cy="552.3" r="0.7" fill="#5aa63a"/><circle cx="702.0" cy="502.0" r="1.0" fill="#a6dc76"/><circle cx="670.0" cy="491.8" r="1.0" fill="#5aa63a"/><circle cx="699.5" cy="549.2" r="1.1" fill="#4e9c34"/><circle cx="694.6" cy="511.0" r="1.2" fill="#5aa63a"/><circle cx="681.4" cy="533.0" r="1.0" fill="#93d266"/><circle cx="687.6" cy="522.9" r="1.4" fill="#93d266"/><circle cx="673.4" cy="520.4" r="0.7" fill="#c8eca8"/><circle cx="696.8" cy="490.1" r="1.2" fill="#a6dc76"/><circle cx="702.1" cy="557.0" r="0.9" fill="#c8eca8"/><circle cx="688.1" cy="526.7" r="0.7" fill="#4e9c34"/><circle cx="671.9" cy="508.6" r="0.6" fill="#a6dc76"/><circle cx="710.2" cy="538.8" r="0.8" fill="#4e9c34"/><circle cx="690.3" cy="540.5" r="1.4" fill="#a6dc76"/><circle cx="688.4" cy="535.9" r="0.6" fill="#4e9c34"/><circle cx="714.4" cy="497.3" r="0.9" fill="#5aa63a"/><circle cx="723.8" cy="526.7" r="1.0" fill="#5aa63a"/><circle cx="700.6" cy="557.7" r="1.3" fill="#4e9c34"/><circle cx="683.5" cy="520.2" r="1.1" fill="#c8eca8"/><circle cx="690.0" cy="505.5" r="0.7" fill="#a6dc76"/><circle cx="680.6" cy="505.7" r="1.3" fill="#4e9c34"/><circle cx="677.5" cy="509.6" r="0.9" fill="#5aa63a"/><circle cx="689.3" cy="532.3" r="1.2" fill="#5aa63a"/><circle cx="698.5" cy="536.4" r="1.0" fill="#a6dc76"/><circle cx="720.9" cy="563.2" r="0.9" fill="#93d266"/><circle cx="691.1" cy="495.3" r="0.6" fill="#4e9c34"/><circle cx="670.2" cy="503.7" r="0.7" fill="#5aa63a"/><circle cx="703.8" cy="495.2" r="0.7" fill="#93d266"/><circle cx="672.4" cy="516.1" r="0.7" fill="#a6dc76"/><circle cx="679.1" cy="517.1" r="1.4" fill="#c8eca8"/><circle cx="703.9" cy="524.9" r="1.3" fill="#a6dc76"/><circle cx="728.6" cy="524.3" r="0.8" fill="#4e9c34"/><circle cx="675.1" cy="547.0" r="1.0" fill="#c8eca8"/><circle cx="709.6" cy="528.3" r="1.4" fill="#5aa63a"/><circle cx="699.3" cy="498.7" r="1.3" fill="#93d266"/><circle cx="713.8" cy="510.8" r="1.2" fill="#a6dc76"/><circle cx="682.5" cy="516.3" r="0.9" fill="#5aa63a"/><circle cx="680.0" cy="530.3" r="0.9" fill="#93d266"/><circle cx="680.1" cy="551.9" r="1.2" fill="#5aa63a"/><circle cx="717.6" cy="546.2" r="0.8" fill="#5aa63a"/><circle cx="697.0" cy="545.5" r="1.2" fill="#a6dc76"/><circle cx="695.8" cy="502.5" r="1.4" fill="#93d266"/><circle cx="694.2" cy="562.0" r="1.4" fill="#c8eca8"/><circle cx="689.0" cy="504.6" r="1.0" fill="#5aa63a"/><circle cx="687.3" cy="525.6" r="1.3" fill="#93d266"/><circle cx="696.2" cy="539.2" r="1.3" fill="#a6dc76"/><circle cx="673.6" cy="518.1" r="1.0" fill="#5aa63a"/><circle cx="677.2" cy="550.1" r="0.7" fill="#c8eca8"/><circle cx="725.6" cy="544.7" r="0.9" fill="#4e9c34"/><circle cx="725.6" cy="545.0" r="1.4" fill="#5aa63a"/><circle cx="667.7" cy="534.3" r="1.2" fill="#4e9c34"/><circle cx="675.2" cy="553.1" r="1.1" fill="#4e9c34"/><circle cx="688.1" cy="530.9" r="0.6" fill="#5aa63a"/><circle cx="716.4" cy="545.1" r="1.0" fill="#a6dc76"/><circle cx="724.8" cy="521.7" r="1.3" fill="#5aa63a"/><circle cx="679.3" cy="507.1" r="1.0" fill="#c8eca8"/><circle cx="714.1" cy="513.1" r="0.9" fill="#93d266"/><circle cx="674.3" cy="559.8" r="1.3" fill="#c8eca8"/><circle cx="707.7" cy="552.2" r="0.9" fill="#93d266"/><circle cx="723.8" cy="527.1" r="0.7" fill="#93d266"/><circle cx="698.2" cy="556.8" r="1.1" fill="#5aa63a"/><circle cx="714.9" cy="499.0" r="1.0" fill="#5aa63a"/><circle cx="711.7" cy="531.5" r="1.1" fill="#c8eca8"/><circle cx="699.4" cy="525.6" r="1.3" fill="#a6dc76"/><circle cx="669.6" cy="502.3" r="1.2" fill="#a6dc76"/><circle cx="698.0" cy="531.9" r="1.0" fill="#a6dc76"/><circle cx="704.6" cy="527.4" r="0.8" fill="#93d266"/><circle cx="683.5" cy="527.7" r="1.0" fill="#4e9c34"/><circle cx="681.6" cy="528.9" r="1.3" fill="#c8eca8"/><circle cx="722.2" cy="503.2" r="0.7" fill="#4e9c34"/><circle cx="673.7" cy="522.4" r="1.1" fill="#a6dc76"/><circle cx="693.0" cy="504.0" r="1.2" fill="#c8eca8"/><circle cx="722.5" cy="499.4" r="0.7" fill="#c8eca8"/><circle cx="721.6" cy="564.4" r="1.2" fill="#5aa63a"/><circle cx="671.9" cy="557.8" r="1.4" fill="#5aa63a"/><circle cx="718.4" cy="499.9" r="1.4" fill="#4e9c34"/><circle cx="691.4" cy="520.7" r="0.9" fill="#c8eca8"/><circle cx="711.5" cy="488.6" r="1.0" fill="#93d266"/><circle cx="710.3" cy="517.7" r="1.1" fill="#93d266"/><circle cx="698.3" cy="492.1" r="1.4" fill="#5aa63a"/><circle cx="672.6" cy="508.2" r="1.3" fill="#a6dc76"/><circle cx="677.4" cy="547.5" r="1.3" fill="#4e9c34"/><circle cx="708.6" cy="562.7" r="0.7" fill="#4e9c34"/><circle cx="723.9" cy="532.6" r="0.7" fill="#c8eca8"/><circle cx="669.6" cy="542.1" r="1.3" fill="#4e9c34"/><circle cx="682.9" cy="488.3" r="1.2" fill="#a6dc76"/><circle cx="671.3" cy="555.5" r="0.8" fill="#a6dc76"/><circle cx="673.7" cy="487.9" r="0.9" fill="#93d266"/><circle cx="723.7" cy="536.7" r="1.0" fill="#a6dc76"/><circle cx="681.0" cy="495.8" r="0.8" fill="#5aa63a"/><circle cx="677.4" cy="561.6" r="1.0" fill="#c8eca8"/><circle cx="679.0" cy="522.7" r="0.8" fill="#5aa63a"/><circle cx="716.6" cy="566.6" r="0.6" fill="#a6dc76"/><circle cx="712.2" cy="531.1" r="1.0" fill="#5aa63a"/><circle cx="681.5" cy="522.8" r="1.1" fill="#4e9c34"/><circle cx="700.4" cy="558.1" r="0.8" fill="#93d266"/><circle cx="679.6" cy="505.4" r="1.3" fill="#5aa63a"/><circle cx="710.5" cy="537.9" r="1.4" fill="#4e9c34"/><circle cx="727.9" cy="554.0" r="0.7" fill="#a6dc76"/><circle cx="712.7" cy="507.4" r="0.6" fill="#5aa63a"/><circle cx="707.9" cy="517.5" r="1.1" fill="#93d266"/><circle cx="683.8" cy="506.4" r="0.6" fill="#c8eca8"/><circle cx="677.7" cy="508.5" r="0.8" fill="#a6dc76"/><circle cx="726.6" cy="564.8" r="0.9" fill="#93d266"/><circle cx="668.2" cy="557.6" r="0.9" fill="#5aa63a"/><circle cx="666.1" cy="517.5" r="0.8" fill="#4e9c34"/><circle cx="707.3" cy="506.9" r="0.7" fill="#a6dc76"/><circle cx="717.5" cy="498.5" r="0.6" fill="#93d266"/><circle cx="667.4" cy="511.3" r="0.7" fill="#5aa63a"/><circle cx="726.3" cy="555.3" r="1.1" fill="#5aa63a"/><circle cx="711.1" cy="557.3" r="1.2" fill="#4e9c34"/><circle cx="711.4" cy="526.5" r="1.2" fill="#c8eca8"/><circle cx="706.5" cy="490.5" r="1.1" fill="#93d266"/><circle cx="712.2" cy="552.0" r="1.3" fill="#5aa63a"/><circle cx="713.4" cy="532.5" r="1.3" fill="#a6dc76"/><circle cx="702.8" cy="558.4" r="0.7" fill="#5aa63a"/><circle cx="668.6" cy="538.0" r="0.9" fill="#a6dc76"/><circle cx="694.4" cy="491.1" r="1.1" fill="#a6dc76"/><circle cx="708.9" cy="526.1" r="1.0" fill="#a6dc76"/><circle cx="670.4" cy="561.6" r="0.7" fill="#93d266"/><circle cx="699.1" cy="546.7" r="0.8" fill="#4e9c34"/><circle cx="670.7" cy="508.2" r="0.8" fill="#5aa63a"/><circle cx="706.9" cy="523.8" r="0.7" fill="#4e9c34"/><circle cx="723.4" cy="510.0" r="1.1" fill="#a6dc76"/><circle cx="706.5" cy="493.2" r="0.9" fill="#5aa63a"/><circle cx="707.0" cy="542.4" r="1.1" fill="#93d266"/><circle cx="666.8" cy="491.9" r="1.4" fill="#c8eca8"/><circle cx="672.3" cy="504.4" r="0.8" fill="#4e9c34"/><circle cx="698.5" cy="524.2" r="1.2" fill="#4e9c34"/><circle cx="728.6" cy="530.9" r="1.4" fill="#c8eca8"/><circle cx="725.0" cy="488.4" r="0.7" fill="#4e9c34"/><circle cx="697.9" cy="566.6" r="0.9" fill="#c8eca8"/><circle cx="723.7" cy="561.4" r="1.1" fill="#a6dc76"/><circle cx="674.9" cy="528.9" r="0.7" fill="#c8eca8"/><circle cx="717.7" cy="527.7" r="1.2" fill="#a6dc76"/><circle cx="680.6" cy="558.8" r="0.9" fill="#4e9c34"/><circle cx="676.0" cy="563.0" r="0.9" fill="#4e9c34"/><circle cx="711.8" cy="520.3" r="0.9" fill="#4e9c34"/><circle cx="718.9" cy="487.1" r="1.3" fill="#c8eca8"/><circle cx="673.6" cy="561.1" r="1.3" fill="#a6dc76"/><circle cx="684.3" cy="516.8" r="0.9" fill="#4e9c34"/><circle cx="720.8" cy="493.1" r="1.2" fill="#4e9c34"/><circle cx="719.8" cy="509.5" r="1.3" fill="#a6dc76"/><circle cx="684.0" cy="561.8" r="1.4" fill="#5aa63a"/><circle cx="693.5" cy="512.2" r="1.2" fill="#c8eca8"/><circle cx="692.9" cy="489.3" r="1.3" fill="#4e9c34"/><circle cx="725.3" cy="530.9" r="0.6" fill="#a6dc76"/><circle cx="712.1" cy="523.1" r="1.1" fill="#5aa63a"/><circle cx="684.0" cy="490.9" r="0.7" fill="#93d266"/><circle cx="695.7" cy="514.5" r="0.8" fill="#c8eca8"/><circle cx="712.5" cy="539.2" r="1.1" fill="#4e9c34"/><circle cx="685.0" cy="531.6" r="0.7" fill="#4e9c34"/><circle cx="706.5" cy="493.0" r="1.3" fill="#93d266"/><circle cx="697.3" cy="504.6" r="1.4" fill="#c8eca8"/><circle cx="694.3" cy="498.2" r="0.8" fill="#5aa63a"/><circle cx="677.0" cy="531.5" r="0.8" fill="#c8eca8"/><circle cx="682.3" cy="532.6" r="1.2" fill="#a6dc76"/><circle cx="692.0" cy="520.1" r="0.8" fill="#93d266"/><circle cx="683.0" cy="547.2" r="0.8" fill="#4e9c34"/><circle cx="727.0" cy="497.1" r="1.0" fill="#93d266"/><circle cx="715.8" cy="554.9" r="0.8" fill="#a6dc76"/><circle cx="681.7" cy="519.0" r="0.9" fill="#4e9c34"/><circle cx="685.7" cy="552.1" r="0.7" fill="#a6dc76"/><circle cx="692.8" cy="548.1" r="1.4" fill="#4e9c34"/><circle cx="696.9" cy="492.9" r="1.3" fill="#93d266"/><circle cx="727.3" cy="506.9" r="0.8" fill="#a6dc76"/><circle cx="675.6" cy="564.8" r="1.4" fill="#a6dc76"/><circle cx="711.5" cy="538.8" r="0.7" fill="#4e9c34"/><circle cx="714.9" cy="487.1" r="0.8" fill="#5aa63a"/><circle cx="724.0" cy="538.6" r="1.4" fill="#c8eca8"/><circle cx="705.5" cy="529.3" r="1.2" fill="#4e9c34"/><circle cx="673.1" cy="492.6" r="1.4" fill="#93d266"/><circle cx="678.1" cy="507.9" r="0.6" fill="#93d266"/><circle cx="699.9" cy="566.7" r="1.4" fill="#c8eca8"/><circle cx="706.6" cy="557.7" r="1.0" fill="#4e9c34"/><circle cx="700.5" cy="489.3" r="1.2" fill="#4e9c34"/><circle cx="685.4" cy="488.7" r="1.3" fill="#4e9c34"/><circle cx="706.8" cy="493.5" r="1.1" fill="#5aa63a"/><circle cx="724.3" cy="505.1" r="1.2" fill="#a6dc76"/><circle cx="711.3" cy="516.0" r="0.8" fill="#4e9c34"/><circle cx="716.2" cy="546.1" r="0.7" fill="#93d266"/><circle cx="697.2" cy="503.0" r="0.8" fill="#5aa63a"/><circle cx="680.0" cy="547.8" r="0.7" fill="#c8eca8"/><circle cx="705.3" cy="535.8" r="1.0" fill="#5aa63a"/><circle cx="723.4" cy="491.5" r="0.7" fill="#93d266"/><circle cx="690.8" cy="504.0" r="0.7" fill="#93d266"/><circle cx="669.3" cy="491.8" r="1.0" fill="#4e9c34"/><circle cx="710.9" cy="512.1" r="1.4" fill="#a6dc76"/><circle cx="724.7" cy="513.3" r="1.1" fill="#5aa63a"/><circle cx="699.1" cy="524.4" r="1.1" fill="#c8eca8"/><circle cx="689.9" cy="516.9" r="1.0" fill="#c8eca8"/><circle cx="672.9" cy="493.3" r="0.9" fill="#a6dc76"/><circle cx="726.2" cy="496.9" r="0.9" fill="#5aa63a"/><circle cx="714.4" cy="511.7" r="0.7" fill="#4e9c34"/><circle cx="710.4" cy="502.7" r="1.3" fill="#93d266"/><circle cx="678.2" cy="516.1" r="0.6" fill="#4e9c34"/><circle cx="691.9" cy="551.9" r="0.6" fill="#4e9c34"/><circle cx="668.2" cy="492.0" r="0.8" fill="#a6dc76"/><circle cx="713.1" cy="558.9" r="0.9" fill="#c8eca8"/><circle cx="687.1" cy="563.3" r="0.8" fill="#a6dc76"/><circle cx="711.1" cy="512.3" r="0.8" fill="#c8eca8"/><circle cx="711.5" cy="534.6" r="0.6" fill="#a6dc76"/><circle cx="680.7" cy="525.0" r="1.4" fill="#4e9c34"/><circle cx="690.4" cy="507.1" r="1.3" fill="#4e9c34"/><circle cx="674.4" cy="526.7" r="1.2" fill="#a6dc76"/><circle cx="712.5" cy="552.8" r="1.1" fill="#5aa63a"/><circle cx="686.7" cy="512.6" r="1.2" fill="#c8eca8"/><circle cx="703.5" cy="528.0" r="1.2" fill="#4e9c34"/><circle cx="681.6" cy="492.2" r="1.0" fill="#a6dc76"/><circle cx="700.3" cy="499.9" r="1.3" fill="#4e9c34"/><circle cx="728.2" cy="508.2" r="0.8" fill="#a6dc76"/><circle cx="692.5" cy="566.1" r="0.7" fill="#4e9c34"/><circle cx="674.4" cy="523.9" r="1.2" fill="#5aa63a"/><circle cx="719.4" cy="540.2" r="1.2" fill="#a6dc76"/><circle cx="684.5" cy="509.4" r="0.9" fill="#c8eca8"/><circle cx="712.5" cy="502.9" r="0.7" fill="#5aa63a"/><circle cx="680.8" cy="509.5" r="0.8" fill="#93d266"/><circle cx="670.1" cy="507.1" r="1.0" fill="#5aa63a"/><circle cx="680.6" cy="551.7" r="1.4" fill="#4e9c34"/><circle cx="672.4" cy="525.0" r="1.3" fill="#5aa63a"/><circle cx="723.6" cy="490.2" r="0.8" fill="#c8eca8"/><circle cx="669.2" cy="535.0" r="0.8" fill="#93d266"/><circle cx="670.7" cy="528.0" r="1.0" fill="#5aa63a"/><circle cx="682.4" cy="549.2" r="0.7" fill="#a6dc76"/><circle cx="703.6" cy="536.6" r="0.6" fill="#5aa63a"/><circle cx="687.4" cy="490.5" r="0.6" fill="#c8eca8"/><circle cx="712.1" cy="560.1" r="1.3" fill="#a6dc76"/><circle cx="691.8" cy="516.7" r="0.8" fill="#93d266"/><circle cx="678.8" cy="550.6" r="1.0" fill="#93d266"/><circle cx="691.7" cy="550.7" r="0.7" fill="#93d266"/><circle cx="699.6" cy="539.2" r="1.2" fill="#4e9c34"/><circle cx="691.8" cy="509.7" r="0.9" fill="#c8eca8"/><circle cx="669.2" cy="546.6" r="0.9" fill="#c8eca8"/><circle cx="667.1" cy="548.3" r="1.1" fill="#c8eca8"/><circle cx="690.6" cy="519.4" r="0.9" fill="#a6dc76"/><circle cx="675.9" cy="496.1" r="0.9" fill="#a6dc76"/><circle cx="721.6" cy="523.9" r="0.7" fill="#5aa63a"/><circle cx="669.3" cy="498.4" r="0.7" fill="#4e9c34"/><circle cx="705.2" cy="516.7" r="0.7" fill="#93d266"/><circle cx="687.9" cy="499.9" r="1.3" fill="#5aa63a"/><circle cx="672.9" cy="526.2" r="0.8" fill="#5aa63a"/><circle cx="718.7" cy="490.5" r="0.9" fill="#4e9c34"/><circle cx="704.3" cy="537.9" r="1.3" fill="#a6dc76"/><circle cx="705.1" cy="553.0" r="1.1" fill="#5aa63a"/><circle cx="720.0" cy="536.7" r="1.3" fill="#93d266"/><circle cx="718.2" cy="501.6" r="0.6" fill="#5aa63a"/><circle cx="725.1" cy="499.5" r="0.7" fill="#c8eca8"/><circle cx="681.6" cy="545.0" r="0.6" fill="#5aa63a"/><circle cx="701.4" cy="547.6" r="1.1" fill="#a6dc76"/><circle cx="686.4" cy="518.2" r="1.0" fill="#4e9c34"/><circle cx="705.5" cy="511.5" r="0.8" fill="#4e9c34"/><circle cx="681.7" cy="518.1" r="1.0" fill="#c8eca8"/><circle cx="693.6" cy="488.9" r="1.4" fill="#93d266"/></g><ellipse cx="737" cy="550" rx="17" ry="8" fill="#f3e2df"/><path d="M735.4,543.6 Q735.4,534.4 732.7,522.6" fill="none" stroke="#c06058" stroke-width="0.9" stroke-dasharray="1.7 0.9"/><path d="M724.8,549.5 Q720.8,547.5 715.7,548.8" fill="none" stroke="#9a3030" stroke-width="1.2" stroke-dasharray="2.3 0.6"/><path d="M737.2,542.2 Q738.7,539.1 737.3,532.0" fill="none" stroke="#a83a3a" stroke-width="0.9" stroke-dasharray="3.0 1.0"/><path d="M753.2,550.4 Q760.3,549.2 764.0,551.4" fill="none" stroke="#9a3030" stroke-width="1.1" stroke-dasharray="1.9 0.9"/><path d="M743.5,544.7 Q747.9,539.1 748.6,533.6" fill="none" stroke="#9a3030" stroke-width="1.1" stroke-dasharray="1.9 0.9"/><path d="M726.4,547.0 Q719.9,543.7 714.7,541.3" fill="none" stroke="#9a3030" stroke-width="0.9" stroke-dasharray="2.3 1.1"/><path d="M729.2,544.6 Q726.3,535.5 720.3,529.5" fill="none" stroke="#c06058" stroke-width="1.2" stroke-dasharray="2.1 0.9"/><path d="M732.5,545.3 Q729.2,541.6 728.0,537.0" fill="none" stroke="#a83a3a" stroke-width="0.9" stroke-dasharray="2.3 0.8"/><path d="M752.8,551.0 Q759.5,552.7 764.4,552.4" fill="none" stroke="#b84e48" stroke-width="0.9" stroke-dasharray="2.4 0.9"/><path d="M737.7,545.5 Q738.6,537.8 738.3,533.9" fill="none" stroke="#a83a3a" stroke-width="1.1" stroke-dasharray="2.0 1.0"/><path d="M738.5,544.8 Q738.6,541.1 739.8,534.8" fill="none" stroke="#b84e48" stroke-width="0.9" stroke-dasharray="2.9 0.8"/><path d="M728.1,548.1 Q718.2,544.5 706.0,541.8" fill="none" stroke="#9a3030" stroke-width="1.3" stroke-dasharray="1.6 1.3"/><path d="M750.4,549.1 Q759.7,547.9 768.8,546.7" fill="none" stroke="#b84e48" stroke-width="1.3" stroke-dasharray="1.6 1.0"/><path d="M733.5,546.0 Q727.9,536.6 726.2,526.7" fill="none" stroke="#b84e48" stroke-width="0.9" stroke-dasharray="1.8 1.1"/><path d="M737.4,542.7 Q736.7,536.6 737.6,532.0" fill="none" stroke="#a83a3a" stroke-width="1.3" stroke-dasharray="2.6 1.0"/><path d="M738.6,544.3 Q738.6,533.7 741.9,521.9" fill="none" stroke="#b84e48" stroke-width="0.9" stroke-dasharray="1.7 0.8"/><path d="M725.7,550.8 Q722.1,552.1 715.7,551.8" fill="none" stroke="#9a3030" stroke-width="1.1" stroke-dasharray="2.5 1.1"/><path d="M753.7,549.7 Q767.3,547.5 777.7,548.6" fill="none" stroke="#a83a3a" stroke-width="0.9" stroke-dasharray="2.9 1.3"/><path d="M728.3,546.4 Q722.7,544.2 718.0,541.2" fill="none" stroke="#c06058" stroke-width="1.3" stroke-dasharray="2.4 1.2"/><path d="M746.5,545.2 Q753.7,537.8 759.3,527.5" fill="none" stroke="#c06058" stroke-width="1.3" stroke-dasharray="1.9 1.3"/><path d="M747.3,546.9 Q753.7,540.8 762.8,538.4" fill="none" stroke="#a83a3a" stroke-width="0.9" stroke-dasharray="2.9 0.9"/><path d="M728.6,548.9 Q719.4,547.2 709.2,543.9" fill="none" stroke="#a83a3a" stroke-width="0.8" stroke-dasharray="2.4 0.9"/><path d="M751.2,547.0 Q757.0,546.8 759.9,543.3" fill="none" stroke="#c06058" stroke-width="0.9" stroke-dasharray="1.8 0.7"/><path d="M721.4,550.9 Q718.0,552.0 712.0,552.0" fill="none" stroke="#9a3030" stroke-width="1.0" stroke-dasharray="1.7 1.2"/><path d="M742.6,545.4 Q745.2,541.9 749.1,534.9" fill="none" stroke="#a83a3a" stroke-width="1.2" stroke-dasharray="2.1 0.9"/><path d="M749.7,550.9 Q752.5,551.1 759.0,552.0" fill="none" stroke="#c06058" stroke-width="1.1" stroke-dasharray="1.6 1.0"/><path d="M723.7,550.5 Q718.5,550.1 712.6,551.3" fill="none" stroke="#c06058" stroke-width="0.8" stroke-dasharray="1.8 1.2"/><path d="M745.4,551.0 Q750.7,550.4 753.6,552.4" fill="none" stroke="#c06058" stroke-width="1.1" stroke-dasharray="2.9 1.0"/><path d="M739.8,543.0 Q742.1,530.6 746.5,520.9" fill="none" stroke="#a83a3a" stroke-width="1.0" stroke-dasharray="3.0 1.0"/><path d="M725.8,549.4 Q715.5,548.9 702.0,546.5" fill="none" stroke="#c06058" stroke-width="1.2" stroke-dasharray="1.5 0.8"/><path d="M724.7,546.1 Q720.6,540.5 713.5,536.9" fill="none" stroke="#c06058" stroke-width="0.9" stroke-dasharray="2.4 1.2"/><path d="M740.3,544.1 Q745.0,536.4 746.7,529.0" fill="none" stroke="#9a3030" stroke-width="0.9" stroke-dasharray="2.2 1.2"/><path d="M739.7,544.4 Q742.0,532.5 746.3,523.1" fill="none" stroke="#9a3030" stroke-width="1.2" stroke-dasharray="2.7 1.1"/><path d="M749.2,545.3 Q755.3,538.2 762.7,533.1" fill="none" stroke="#b84e48" stroke-width="0.9" stroke-dasharray="2.9 1.4"/><path d="M723.8,548.4 Q717.2,545.8 713.5,544.8" fill="none" stroke="#9a3030" stroke-width="1.0" stroke-dasharray="1.8 1.1"/><path d="M726.8,549.2 Q722.0,549.8 718.0,548.1" fill="none" stroke="#b84e48" stroke-width="1.1" stroke-dasharray="2.4 1.0"/><path d="M723.8,548.5 Q715.4,545.6 703.7,543.3" fill="none" stroke="#c06058" stroke-width="1.2" stroke-dasharray="2.5 1.1"/><path d="M750.7,548.8 Q755.4,546.1 762.7,546.5" fill="none" stroke="#c06058" stroke-width="1.0" stroke-dasharray="2.4 0.7"/><path d="M732.6,543.4 Q728.9,534.5 727.1,526.1" fill="none" stroke="#c06058" stroke-width="0.8" stroke-dasharray="2.8 1.0"/><path d="M745.8,543.7 Q747.7,539.5 753.5,532.7" fill="none" stroke="#a83a3a" stroke-width="0.8" stroke-dasharray="2.3 0.7"/><path d="M751.1,546.9 Q755.7,544.5 759.8,541.9" fill="none" stroke="#c06058" stroke-width="1.1" stroke-dasharray="2.5 1.3"/><path d="M737.9,542.2 Q739.2,536.1 738.9,530.9" fill="none" stroke="#a83a3a" stroke-width="1.2" stroke-dasharray="2.4 1.1"/><path d="M727.8,547.4 Q725.7,545.0 720.2,541.7" fill="none" stroke="#9a3030" stroke-width="1.1" stroke-dasharray="1.7 0.8"/><path d="M731.1,542.6 Q728.5,531.3 722.2,520.3" fill="none" stroke="#b84e48" stroke-width="0.9" stroke-dasharray="2.7 1.2"/><path d="M742.9,544.5 Q747.6,538.8 748.6,534.2" fill="none" stroke="#c06058" stroke-width="1.0" stroke-dasharray="1.9 1.0"/><path d="M721.7,548.9 Q709.7,546.2 699.5,544.5" fill="none" stroke="#9a3030" stroke-width="1.3" stroke-dasharray="2.5 1.0"/><path d="M750.7,547.6 Q758.7,543.5 768.1,539.4" fill="none" stroke="#a83a3a" stroke-width="1.1" stroke-dasharray="2.0 1.3"/><path d="M745.6,548.0 Q758.1,543.4 768.3,541.8" fill="none" stroke="#9a3030" stroke-width="1.1" stroke-dasharray="1.5 0.6"/><circle cx="753.1" cy="547.6" r="0.9" fill="#b03c3c"/><circle cx="720.3" cy="545.8" r="0.8" fill="#c05050"/><circle cx="730.3" cy="554.5" r="1.3" fill="#a83838"/><circle cx="746.5" cy="557.9" r="1.1" fill="#b03c3c"/><circle cx="727.5" cy="542.1" r="1.3" fill="#c05050"/><circle cx="742.6" cy="557.7" r="1.1" fill="#a83838"/><circle cx="746.1" cy="543.2" r="0.8" fill="#b03c3c"/><circle cx="735.9" cy="555.9" r="0.8" fill="#c05050"/><circle cx="722.8" cy="547.5" r="1.3" fill="#a83838"/><circle cx="721.7" cy="550.4" r="1.1" fill="#a83838"/><circle cx="755.8" cy="550.4" r="1.0" fill="#a83838"/><circle cx="723.8" cy="550.1" r="1.0" fill="#c05050"/><circle cx="719.5" cy="554.6" r="0.8" fill="#a83838"/><circle cx="726.3" cy="556.1" r="0.7" fill="#b03c3c"/><circle cx="728.9" cy="541.5" r="0.9" fill="#b03c3c"/><circle cx="721.9" cy="549.5" r="1.3" fill="#b03c3c"/><circle cx="740.3" cy="556.6" r="0.8" fill="#b03c3c"/><circle cx="746.0" cy="545.0" r="1.0" fill="#a83838"/><circle cx="718.6" cy="546.9" r="0.9" fill="#c05050"/><circle cx="723.0" cy="553.5" r="1.3" fill="#c05050"/><circle cx="727.6" cy="555.7" r="0.9" fill="#c05050"/><circle cx="746.6" cy="545.4" r="0.8" fill="#c05050"/><circle cx="740.5" cy="543.8" r="0.9" fill="#c05050"/><circle cx="751.0" cy="556.8" r="0.8" fill="#b03c3c"/><circle cx="724.2" cy="554.4" r="1.0" fill="#a83838"/><circle cx="749.6" cy="551.9" r="0.7" fill="#b03c3c"/><circle cx="743.6" cy="543.6" r="1.2" fill="#b03c3c"/><circle cx="741.7" cy="541.1" r="1.1" fill="#a83838"/><circle cx="747.3" cy="556.4" r="1.2" fill="#a83838"/><circle cx="746.2" cy="552.5" r="1.1" fill="#a83838"/><circle cx="737.9" cy="544.7" r="0.8" fill="#b03c3c"/><circle cx="727.1" cy="552.5" r="1.4" fill="#b03c3c"/><circle cx="724.4" cy="556.4" r="1.3" fill="#a83838"/><circle cx="732.3" cy="541.3" r="0.8" fill="#b03c3c"/><circle cx="730.9" cy="556.2" r="1.1" fill="#b03c3c"/><circle cx="721.5" cy="550.1" r="1.3" fill="#c05050"/><circle cx="719.6" cy="545.8" r="1.0" fill="#b03c3c"/><circle cx="730.1" cy="543.1" r="1.4" fill="#a83838"/><circle cx="751.9" cy="549.1" r="1.0" fill="#b03c3c"/><circle cx="750.0" cy="553.5" r="1.3" fill="#a83838"/><circle cx="747.2" cy="550.5" r="1.2" fill="#b03c3c"/><circle cx="755.9" cy="549.3" r="0.9" fill="#b03c3c"/><circle cx="744.2" cy="553.5" r="1.2" fill="#b03c3c"/><circle cx="720.1" cy="552.5" r="1.3" fill="#c05050"/><circle cx="739.6" cy="541.9" r="1.3" fill="#a83838"/><circle cx="737.8" cy="543.8" r="1.1" fill="#c05050"/><circle cx="717.9" cy="552.3" r="0.9" fill="#b03c3c"/><circle cx="734.9" cy="545.2" r="0.7" fill="#a83838"/><circle cx="730.6" cy="542.8" r="1.0" fill="#c05050"/><circle cx="735.5" cy="544.4" r="1.3" fill="#c05050"/><circle cx="726.6" cy="546.0" r="1.4" fill="#a83838"/><circle cx="721.1" cy="553.0" r="0.8" fill="#b03c3c"/><circle cx="726.0" cy="556.0" r="1.1" fill="#c05050"/><circle cx="719.1" cy="551.2" r="1.0" fill="#c05050"/><circle cx="740.4" cy="542.7" r="0.9" fill="#b03c3c"/><circle cx="724.9" cy="544.5" r="1.3" fill="#a83838"/><circle cx="728.9" cy="556.7" r="1.4" fill="#b03c3c"/><circle cx="726.3" cy="546.3" r="1.0" fill="#b03c3c"/><circle cx="724.7" cy="555.7" r="1.1" fill="#b03c3c"/><circle cx="741.6" cy="544.2" r="0.7" fill="#c05050"/></g><g transform="translate(-264.5,434.7)"><path d="M643.1,498.0 C643.9,499.3 645.9,503.2 648.0,506.0 C650.1,508.8 653.4,512.2 655.7,514.5 C658.0,516.8 659.6,518.1 662.0,519.5 C664.4,520.9 668.5,522.5 669.8,523.1" fill="none" stroke="#a6c060" stroke-width="1.8"/><path d="M648,503 l-4,2 M652,510 l4,-3" stroke="#a6c060" stroke-width="1"/><path d="M690.0,495.0 C691.7,495.2 696.7,496.2 700.0,496.0 C703.3,495.8 707.0,493.3 710.0,493.5 C713.0,493.7 715.0,496.3 718.0,497.0 C721.0,497.7 725.0,497.0 728.0,497.5 C731.0,498.0 733.7,499.1 736.0,500.0 C738.3,500.9 741.0,502.2 742.0,502.7" fill="none" stroke="#b8c890" stroke-width="1.2" stroke-dasharray="2 1"/><path d="M760.0,549.5 C762.5,549.6 770.0,549.6 775.0,550.0 C780.0,550.4 785.0,551.4 790.0,552.0 C795.0,552.6 800.0,552.8 805.0,553.5 C810.0,554.2 815.1,555.2 820.0,556.0 C824.9,556.8 832.2,557.8 834.6,558.2" fill="none" stroke="#b0d050" stroke-width="2"/><path d="M657,545 L672,548 M656,552 L673,553 M660,559 L675,556 M662,543 l-3,-3" stroke="#c8d8a0" stroke-width="1" stroke-dasharray="2 1.5"/><clipPath id="cc1"><path d="M670.5,512 C669,500 676,497 688,498.5 L696,499 C701,500 702,505 701.5,515 L701.5,556 C701,563 695,565.5 688,565 C681,564.5 678,561 677,552 C675,540 672,525 670.5,512Z"/><path d="M668,497 C667,490 673,488 679,489 C686,489.5 690,493 690,499 C690,505 687,511 680,512 C673,512.5 668.5,505 668,497Z"/><path d="M705.5,515 C705,507 709,503.5 716,503.5 C724,503.5 727.8,508 727.8,516 C727.8,525 725,532 718,533.3 C712,533.5 708,527 706,522 L705,517Z"/></clipPath><path d="M670.5,512 C669,500 676,497 688,498.5 L696,499 C701,500 702,505 701.5,515 L701.5,556 C701,563 695,565.5 688,565 C681,564.5 678,561 677,552 C675,540 672,525 670.5,512Z" fill="#7cc54b"/><path d="M668,497 C667,490 673,488 679,489 C686,489.5 690,493 690,499 C690,505 687,511 680,512 C673,512.5 668.5,505 668,497Z" fill="#55a93a"/><path d="M705.5,515 C705,507 709,503.5 716,503.5 C724,503.5 727.8,508 727.8,516 C727.8,525 725,532 718,533.3 C712,533.5 708,527 706,522 L705,517Z" fill="#6cbf46"/><g clip-path="url(#cc1)"><circle cx="686.4" cy="499.1" r="0.7" fill="#a6dc76"/><circle cx="699.8" cy="516.3" r="1.3" fill="#a6dc76"/><circle cx="679.5" cy="493.9" r="0.7" fill="#4e9c34"/><circle cx="671.7" cy="521.0" r="0.7" fill="#93d266"/><circle cx="680.1" cy="537.2" r="1.1" fill="#a6dc76"/><circle cx="691.0" cy="565.1" r="1.0" fill="#a6dc76"/><circle cx="674.4" cy="520.5" r="0.7" fill="#93d266"/><circle cx="685.4" cy="552.3" r="0.7" fill="#5aa63a"/><circle cx="702.0" cy="502.0" r="1.0" fill="#a6dc76"/><circle cx="670.0" cy="491.8" r="1.0" fill="#5aa63a"/><circle cx="699.5" cy="549.2" r="1.1" fill="#4e9c34"/><circle cx="694.6" cy="511.0" r="1.2" fill="#5aa63a"/><circle cx="681.4" cy="533.0" r="1.0" fill="#93d266"/><circle cx="687.6" cy="522.9" r="1.4" fill="#93d266"/><circle cx="673.4" cy="520.4" r="0.7" fill="#c8eca8"/><circle cx="696.8" cy="490.1" r="1.2" fill="#a6dc76"/><circle cx="702.1" cy="557.0" r="0.9" fill="#c8eca8"/><circle cx="688.1" cy="526.7" r="0.7" fill="#4e9c34"/><circle cx="671.9" cy="508.6" r="0.6" fill="#a6dc76"/><circle cx="710.2" cy="538.8" r="0.8" fill="#4e9c34"/><circle cx="690.3" cy="540.5" r="1.4" fill="#a6dc76"/><circle cx="688.4" cy="535.9" r="0.6" fill="#4e9c34"/><circle cx="714.4" cy="497.3" r="0.9" fill="#5aa63a"/><circle cx="723.8" cy="526.7" r="1.0" fill="#5aa63a"/><circle cx="700.6" cy="557.7" r="1.3" fill="#4e9c34"/><circle cx="683.5" cy="520.2" r="1.1" fill="#c8eca8"/><circle cx="690.0" cy="505.5" r="0.7" fill="#a6dc76"/><circle cx="680.6" cy="505.7" r="1.3" fill="#4e9c34"/><circle cx="677.5" cy="509.6" r="0.9" fill="#5aa63a"/><circle cx="689.3" cy="532.3" r="1.2" fill="#5aa63a"/><circle cx="698.5" cy="536.4" r="1.0" fill="#a6dc76"/><circle cx="720.9" cy="563.2" r="0.9" fill="#93d266"/><circle cx="691.1" cy="495.3" r="0.6" fill="#4e9c34"/><circle cx="670.2" cy="503.7" r="0.7" fill="#5aa63a"/><circle cx="703.8" cy="495.2" r="0.7" fill="#93d266"/><circle cx="672.4" cy="516.1" r="0.7" fill="#a6dc76"/><circle cx="679.1" cy="517.1" r="1.4" fill="#c8eca8"/><circle cx="703.9" cy="524.9" r="1.3" fill="#a6dc76"/><circle cx="728.6" cy="524.3" r="0.8" fill="#4e9c34"/><circle cx="675.1" cy="547.0" r="1.0" fill="#c8eca8"/><circle cx="709.6" cy="528.3" r="1.4" fill="#5aa63a"/><circle cx="699.3" cy="498.7" r="1.3" fill="#93d266"/><circle cx="713.8" cy="510.8" r="1.2" fill="#a6dc76"/><circle cx="682.5" cy="516.3" r="0.9" fill="#5aa63a"/><circle cx="680.0" cy="530.3" r="0.9" fill="#93d266"/><circle cx="680.1" cy="551.9" r="1.2" fill="#5aa63a"/><circle cx="717.6" cy="546.2" r="0.8" fill="#5aa63a"/><circle cx="697.0" cy="545.5" r="1.2" fill="#a6dc76"/><circle cx="695.8" cy="502.5" r="1.4" fill="#93d266"/><circle cx="694.2" cy="562.0" r="1.4" fill="#c8eca8"/><circle cx="689.0" cy="504.6" r="1.0" fill="#5aa63a"/><circle cx="687.3" cy="525.6" r="1.3" fill="#93d266"/><circle cx="696.2" cy="539.2" r="1.3" fill="#a6dc76"/><circle cx="673.6" cy="518.1" r="1.0" fill="#5aa63a"/><circle cx="677.2" cy="550.1" r="0.7" fill="#c8eca8"/><circle cx="725.6" cy="544.7" r="0.9" fill="#4e9c34"/><circle cx="725.6" cy="545.0" r="1.4" fill="#5aa63a"/><circle cx="667.7" cy="534.3" r="1.2" fill="#4e9c34"/><circle cx="675.2" cy="553.1" r="1.1" fill="#4e9c34"/><circle cx="688.1" cy="530.9" r="0.6" fill="#5aa63a"/><circle cx="716.4" cy="545.1" r="1.0" fill="#a6dc76"/><circle cx="724.8" cy="521.7" r="1.3" fill="#5aa63a"/><circle cx="679.3" cy="507.1" r="1.0" fill="#c8eca8"/><circle cx="714.1" cy="513.1" r="0.9" fill="#93d266"/><circle cx="674.3" cy="559.8" r="1.3" fill="#c8eca8"/><circle cx="707.7" cy="552.2" r="0.9" fill="#93d266"/><circle cx="723.8" cy="527.1" r="0.7" fill="#93d266"/><circle cx="698.2" cy="556.8" r="1.1" fill="#5aa63a"/><circle cx="714.9" cy="499.0" r="1.0" fill="#5aa63a"/><circle cx="711.7" cy="531.5" r="1.1" fill="#c8eca8"/><circle cx="699.4" cy="525.6" r="1.3" fill="#a6dc76"/><circle cx="669.6" cy="502.3" r="1.2" fill="#a6dc76"/><circle cx="698.0" cy="531.9" r="1.0" fill="#a6dc76"/><circle cx="704.6" cy="527.4" r="0.8" fill="#93d266"/><circle cx="683.5" cy="527.7" r="1.0" fill="#4e9c34"/><circle cx="681.6" cy="528.9" r="1.3" fill="#c8eca8"/><circle cx="722.2" cy="503.2" r="0.7" fill="#4e9c34"/><circle cx="673.7" cy="522.4" r="1.1" fill="#a6dc76"/><circle cx="693.0" cy="504.0" r="1.2" fill="#c8eca8"/><circle cx="722.5" cy="499.4" r="0.7" fill="#c8eca8"/><circle cx="721.6" cy="564.4" r="1.2" fill="#5aa63a"/><circle cx="671.9" cy="557.8" r="1.4" fill="#5aa63a"/><circle cx="718.4" cy="499.9" r="1.4" fill="#4e9c34"/><circle cx="691.4" cy="520.7" r="0.9" fill="#c8eca8"/><circle cx="711.5" cy="488.6" r="1.0" fill="#93d266"/><circle cx="710.3" cy="517.7" r="1.1" fill="#93d266"/><circle cx="698.3" cy="492.1" r="1.4" fill="#5aa63a"/><circle cx="672.6" cy="508.2" r="1.3" fill="#a6dc76"/><circle cx="677.4" cy="547.5" r="1.3" fill="#4e9c34"/><circle cx="708.6" cy="562.7" r="0.7" fill="#4e9c34"/><circle cx="723.9" cy="532.6" r="0.7" fill="#c8eca8"/><circle cx="669.6" cy="542.1" r="1.3" fill="#4e9c34"/><circle cx="682.9" cy="488.3" r="1.2" fill="#a6dc76"/><circle cx="671.3" cy="555.5" r="0.8" fill="#a6dc76"/><circle cx="673.7" cy="487.9" r="0.9" fill="#93d266"/><circle cx="723.7" cy="536.7" r="1.0" fill="#a6dc76"/><circle cx="681.0" cy="495.8" r="0.8" fill="#5aa63a"/><circle cx="677.4" cy="561.6" r="1.0" fill="#c8eca8"/><circle cx="679.0" cy="522.7" r="0.8" fill="#5aa63a"/><circle cx="716.6" cy="566.6" r="0.6" fill="#a6dc76"/><circle cx="712.2" cy="531.1" r="1.0" fill="#5aa63a"/><circle cx="681.5" cy="522.8" r="1.1" fill="#4e9c34"/><circle cx="700.4" cy="558.1" r="0.8" fill="#93d266"/><circle cx="679.6" cy="505.4" r="1.3" fill="#5aa63a"/><circle cx="710.5" cy="537.9" r="1.4" fill="#4e9c34"/><circle cx="727.9" cy="554.0" r="0.7" fill="#a6dc76"/><circle cx="712.7" cy="507.4" r="0.6" fill="#5aa63a"/><circle cx="707.9" cy="517.5" r="1.1" fill="#93d266"/><circle cx="683.8" cy="506.4" r="0.6" fill="#c8eca8"/><circle cx="677.7" cy="508.5" r="0.8" fill="#a6dc76"/><circle cx="726.6" cy="564.8" r="0.9" fill="#93d266"/><circle cx="668.2" cy="557.6" r="0.9" fill="#5aa63a"/><circle cx="666.1" cy="517.5" r="0.8" fill="#4e9c34"/><circle cx="707.3" cy="506.9" r="0.7" fill="#a6dc76"/><circle cx="717.5" cy="498.5" r="0.6" fill="#93d266"/><circle cx="667.4" cy="511.3" r="0.7" fill="#5aa63a"/><circle cx="726.3" cy="555.3" r="1.1" fill="#5aa63a"/><circle cx="711.1" cy="557.3" r="1.2" fill="#4e9c34"/><circle cx="711.4" cy="526.5" r="1.2" fill="#c8eca8"/><circle cx="706.5" cy="490.5" r="1.1" fill="#93d266"/><circle cx="712.2" cy="552.0" r="1.3" fill="#5aa63a"/><circle cx="713.4" cy="532.5" r="1.3" fill="#a6dc76"/><circle cx="702.8" cy="558.4" r="0.7" fill="#5aa63a"/><circle cx="668.6" cy="538.0" r="0.9" fill="#a6dc76"/><circle cx="694.4" cy="491.1" r="1.1" fill="#a6dc76"/><circle cx="708.9" cy="526.1" r="1.0" fill="#a6dc76"/><circle cx="670.4" cy="561.6" r="0.7" fill="#93d266"/><circle cx="699.1" cy="546.7" r="0.8" fill="#4e9c34"/><circle cx="670.7" cy="508.2" r="0.8" fill="#5aa63a"/><circle cx="706.9" cy="523.8" r="0.7" fill="#4e9c34"/><circle cx="723.4" cy="510.0" r="1.1" fill="#a6dc76"/><circle cx="706.5" cy="493.2" r="0.9" fill="#5aa63a"/><circle cx="707.0" cy="542.4" r="1.1" fill="#93d266"/><circle cx="666.8" cy="491.9" r="1.4" fill="#c8eca8"/><circle cx="672.3" cy="504.4" r="0.8" fill="#4e9c34"/><circle cx="698.5" cy="524.2" r="1.2" fill="#4e9c34"/><circle cx="728.6" cy="530.9" r="1.4" fill="#c8eca8"/><circle cx="725.0" cy="488.4" r="0.7" fill="#4e9c34"/><circle cx="697.9" cy="566.6" r="0.9" fill="#c8eca8"/><circle cx="723.7" cy="561.4" r="1.1" fill="#a6dc76"/><circle cx="674.9" cy="528.9" r="0.7" fill="#c8eca8"/><circle cx="717.7" cy="527.7" r="1.2" fill="#a6dc76"/><circle cx="680.6" cy="558.8" r="0.9" fill="#4e9c34"/><circle cx="676.0" cy="563.0" r="0.9" fill="#4e9c34"/><circle cx="711.8" cy="520.3" r="0.9" fill="#4e9c34"/><circle cx="718.9" cy="487.1" r="1.3" fill="#c8eca8"/><circle cx="673.6" cy="561.1" r="1.3" fill="#a6dc76"/><circle cx="684.3" cy="516.8" r="0.9" fill="#4e9c34"/><circle cx="720.8" cy="493.1" r="1.2" fill="#4e9c34"/><circle cx="719.8" cy="509.5" r="1.3" fill="#a6dc76"/><circle cx="684.0" cy="561.8" r="1.4" fill="#5aa63a"/><circle cx="693.5" cy="512.2" r="1.2" fill="#c8eca8"/><circle cx="692.9" cy="489.3" r="1.3" fill="#4e9c34"/><circle cx="725.3" cy="530.9" r="0.6" fill="#a6dc76"/><circle cx="712.1" cy="523.1" r="1.1" fill="#5aa63a"/><circle cx="684.0" cy="490.9" r="0.7" fill="#93d266"/><circle cx="695.7" cy="514.5" r="0.8" fill="#c8eca8"/><circle cx="712.5" cy="539.2" r="1.1" fill="#4e9c34"/><circle cx="685.0" cy="531.6" r="0.7" fill="#4e9c34"/><circle cx="706.5" cy="493.0" r="1.3" fill="#93d266"/><circle cx="697.3" cy="504.6" r="1.4" fill="#c8eca8"/><circle cx="694.3" cy="498.2" r="0.8" fill="#5aa63a"/><circle cx="677.0" cy="531.5" r="0.8" fill="#c8eca8"/><circle cx="682.3" cy="532.6" r="1.2" fill="#a6dc76"/><circle cx="692.0" cy="520.1" r="0.8" fill="#93d266"/><circle cx="683.0" cy="547.2" r="0.8" fill="#4e9c34"/><circle cx="727.0" cy="497.1" r="1.0" fill="#93d266"/><circle cx="715.8" cy="554.9" r="0.8" fill="#a6dc76"/><circle cx="681.7" cy="519.0" r="0.9" fill="#4e9c34"/><circle cx="685.7" cy="552.1" r="0.7" fill="#a6dc76"/><circle cx="692.8" cy="548.1" r="1.4" fill="#4e9c34"/><circle cx="696.9" cy="492.9" r="1.3" fill="#93d266"/><circle cx="727.3" cy="506.9" r="0.8" fill="#a6dc76"/><circle cx="675.6" cy="564.8" r="1.4" fill="#a6dc76"/><circle cx="711.5" cy="538.8" r="0.7" fill="#4e9c34"/><circle cx="714.9" cy="487.1" r="0.8" fill="#5aa63a"/><circle cx="724.0" cy="538.6" r="1.4" fill="#c8eca8"/><circle cx="705.5" cy="529.3" r="1.2" fill="#4e9c34"/><circle cx="673.1" cy="492.6" r="1.4" fill="#93d266"/><circle cx="678.1" cy="507.9" r="0.6" fill="#93d266"/><circle cx="699.9" cy="566.7" r="1.4" fill="#c8eca8"/><circle cx="706.6" cy="557.7" r="1.0" fill="#4e9c34"/><circle cx="700.5" cy="489.3" r="1.2" fill="#4e9c34"/><circle cx="685.4" cy="488.7" r="1.3" fill="#4e9c34"/><circle cx="706.8" cy="493.5" r="1.1" fill="#5aa63a"/><circle cx="724.3" cy="505.1" r="1.2" fill="#a6dc76"/><circle cx="711.3" cy="516.0" r="0.8" fill="#4e9c34"/><circle cx="716.2" cy="546.1" r="0.7" fill="#93d266"/><circle cx="697.2" cy="503.0" r="0.8" fill="#5aa63a"/><circle cx="680.0" cy="547.8" r="0.7" fill="#c8eca8"/><circle cx="705.3" cy="535.8" r="1.0" fill="#5aa63a"/><circle cx="723.4" cy="491.5" r="0.7" fill="#93d266"/><circle cx="690.8" cy="504.0" r="0.7" fill="#93d266"/><circle cx="669.3" cy="491.8" r="1.0" fill="#4e9c34"/><circle cx="710.9" cy="512.1" r="1.4" fill="#a6dc76"/><circle cx="724.7" cy="513.3" r="1.1" fill="#5aa63a"/><circle cx="699.1" cy="524.4" r="1.1" fill="#c8eca8"/><circle cx="689.9" cy="516.9" r="1.0" fill="#c8eca8"/><circle cx="672.9" cy="493.3" r="0.9" fill="#a6dc76"/><circle cx="726.2" cy="496.9" r="0.9" fill="#5aa63a"/><circle cx="714.4" cy="511.7" r="0.7" fill="#4e9c34"/><circle cx="710.4" cy="502.7" r="1.3" fill="#93d266"/><circle cx="678.2" cy="516.1" r="0.6" fill="#4e9c34"/><circle cx="691.9" cy="551.9" r="0.6" fill="#4e9c34"/><circle cx="668.2" cy="492.0" r="0.8" fill="#a6dc76"/><circle cx="713.1" cy="558.9" r="0.9" fill="#c8eca8"/><circle cx="687.1" cy="563.3" r="0.8" fill="#a6dc76"/><circle cx="711.1" cy="512.3" r="0.8" fill="#c8eca8"/><circle cx="711.5" cy="534.6" r="0.6" fill="#a6dc76"/><circle cx="680.7" cy="525.0" r="1.4" fill="#4e9c34"/><circle cx="690.4" cy="507.1" r="1.3" fill="#4e9c34"/><circle cx="674.4" cy="526.7" r="1.2" fill="#a6dc76"/><circle cx="712.5" cy="552.8" r="1.1" fill="#5aa63a"/><circle cx="686.7" cy="512.6" r="1.2" fill="#c8eca8"/><circle cx="703.5" cy="528.0" r="1.2" fill="#4e9c34"/><circle cx="681.6" cy="492.2" r="1.0" fill="#a6dc76"/><circle cx="700.3" cy="499.9" r="1.3" fill="#4e9c34"/><circle cx="728.2" cy="508.2" r="0.8" fill="#a6dc76"/><circle cx="692.5" cy="566.1" r="0.7" fill="#4e9c34"/><circle cx="674.4" cy="523.9" r="1.2" fill="#5aa63a"/><circle cx="719.4" cy="540.2" r="1.2" fill="#a6dc76"/><circle cx="684.5" cy="509.4" r="0.9" fill="#c8eca8"/><circle cx="712.5" cy="502.9" r="0.7" fill="#5aa63a"/><circle cx="680.8" cy="509.5" r="0.8" fill="#93d266"/><circle cx="670.1" cy="507.1" r="1.0" fill="#5aa63a"/><circle cx="680.6" cy="551.7" r="1.4" fill="#4e9c34"/><circle cx="672.4" cy="525.0" r="1.3" fill="#5aa63a"/><circle cx="723.6" cy="490.2" r="0.8" fill="#c8eca8"/><circle cx="669.2" cy="535.0" r="0.8" fill="#93d266"/><circle cx="670.7" cy="528.0" r="1.0" fill="#5aa63a"/><circle cx="682.4" cy="549.2" r="0.7" fill="#a6dc76"/><circle cx="703.6" cy="536.6" r="0.6" fill="#5aa63a"/><circle cx="687.4" cy="490.5" r="0.6" fill="#c8eca8"/><circle cx="712.1" cy="560.1" r="1.3" fill="#a6dc76"/><circle cx="691.8" cy="516.7" r="0.8" fill="#93d266"/><circle cx="678.8" cy="550.6" r="1.0" fill="#93d266"/><circle cx="691.7" cy="550.7" r="0.7" fill="#93d266"/><circle cx="699.6" cy="539.2" r="1.2" fill="#4e9c34"/><circle cx="691.8" cy="509.7" r="0.9" fill="#c8eca8"/><circle cx="669.2" cy="546.6" r="0.9" fill="#c8eca8"/><circle cx="667.1" cy="548.3" r="1.1" fill="#c8eca8"/><circle cx="690.6" cy="519.4" r="0.9" fill="#a6dc76"/><circle cx="675.9" cy="496.1" r="0.9" fill="#a6dc76"/><circle cx="721.6" cy="523.9" r="0.7" fill="#5aa63a"/><circle cx="669.3" cy="498.4" r="0.7" fill="#4e9c34"/><circle cx="705.2" cy="516.7" r="0.7" fill="#93d266"/><circle cx="687.9" cy="499.9" r="1.3" fill="#5aa63a"/><circle cx="672.9" cy="526.2" r="0.8" fill="#5aa63a"/><circle cx="718.7" cy="490.5" r="0.9" fill="#4e9c34"/><circle cx="704.3" cy="537.9" r="1.3" fill="#a6dc76"/><circle cx="705.1" cy="553.0" r="1.1" fill="#5aa63a"/><circle cx="720.0" cy="536.7" r="1.3" fill="#93d266"/><circle cx="718.2" cy="501.6" r="0.6" fill="#5aa63a"/><circle cx="725.1" cy="499.5" r="0.7" fill="#c8eca8"/><circle cx="681.6" cy="545.0" r="0.6" fill="#5aa63a"/><circle cx="701.4" cy="547.6" r="1.1" fill="#a6dc76"/><circle cx="686.4" cy="518.2" r="1.0" fill="#4e9c34"/><circle cx="705.5" cy="511.5" r="0.8" fill="#4e9c34"/><circle cx="681.7" cy="518.1" r="1.0" fill="#c8eca8"/><circle cx="693.6" cy="488.9" r="1.4" fill="#93d266"/></g><ellipse cx="737" cy="550" rx="17" ry="8" fill="#f3e2df"/><path d="M735.4,543.6 Q735.4,534.4 732.7,522.6" fill="none" stroke="#c06058" stroke-width="0.9" stroke-dasharray="1.7 0.9"/><path d="M724.8,549.5 Q720.8,547.5 715.7,548.8" fill="none" stroke="#9a3030" stroke-width="1.2" stroke-dasharray="2.3 0.6"/><path d="M737.2,542.2 Q738.7,539.1 737.3,532.0" fill="none" stroke="#a83a3a" stroke-width="0.9" stroke-dasharray="3.0 1.0"/><path d="M753.2,550.4 Q760.3,549.2 764.0,551.4" fill="none" stroke="#9a3030" stroke-width="1.1" stroke-dasharray="1.9 0.9"/><path d="M743.5,544.7 Q747.9,539.1 748.6,533.6" fill="none" stroke="#9a3030" stroke-width="1.1" stroke-dasharray="1.9 0.9"/><path d="M726.4,547.0 Q719.9,543.7 714.7,541.3" fill="none" stroke="#9a3030" stroke-width="0.9" stroke-dasharray="2.3 1.1"/><path d="M729.2,544.6 Q726.3,535.5 720.3,529.5" fill="none" stroke="#c06058" stroke-width="1.2" stroke-dasharray="2.1 0.9"/><path d="M732.5,545.3 Q729.2,541.6 728.0,537.0" fill="none" stroke="#a83a3a" stroke-width="0.9" stroke-dasharray="2.3 0.8"/><path d="M752.8,551.0 Q759.5,552.7 764.4,552.4" fill="none" stroke="#b84e48" stroke-width="0.9" stroke-dasharray="2.4 0.9"/><path d="M737.7,545.5 Q738.6,537.8 738.3,533.9" fill="none" stroke="#a83a3a" stroke-width="1.1" stroke-dasharray="2.0 1.0"/><path d="M738.5,544.8 Q738.6,541.1 739.8,534.8" fill="none" stroke="#b84e48" stroke-width="0.9" stroke-dasharray="2.9 0.8"/><path d="M728.1,548.1 Q718.2,544.5 706.0,541.8" fill="none" stroke="#9a3030" stroke-width="1.3" stroke-dasharray="1.6 1.3"/><path d="M750.4,549.1 Q759.7,547.9 768.8,546.7" fill="none" stroke="#b84e48" stroke-width="1.3" stroke-dasharray="1.6 1.0"/><path d="M733.5,546.0 Q727.9,536.6 726.2,526.7" fill="none" stroke="#b84e48" stroke-width="0.9" stroke-dasharray="1.8 1.1"/><path d="M737.4,542.7 Q736.7,536.6 737.6,532.0" fill="none" stroke="#a83a3a" stroke-width="1.3" stroke-dasharray="2.6 1.0"/><path d="M738.6,544.3 Q738.6,533.7 741.9,521.9" fill="none" stroke="#b84e48" stroke-width="0.9" stroke-dasharray="1.7 0.8"/><path d="M725.7,550.8 Q722.1,552.1 715.7,551.8" fill="none" stroke="#9a3030" stroke-width="1.1" stroke-dasharray="2.5 1.1"/><path d="M753.7,549.7 Q767.3,547.5 777.7,548.6" fill="none" stroke="#a83a3a" stroke-width="0.9" stroke-dasharray="2.9 1.3"/><path d="M728.3,546.4 Q722.7,544.2 718.0,541.2" fill="none" stroke="#c06058" stroke-width="1.3" stroke-dasharray="2.4 1.2"/><path d="M746.5,545.2 Q753.7,537.8 759.3,527.5" fill="none" stroke="#c06058" stroke-width="1.3" stroke-dasharray="1.9 1.3"/><path d="M747.3,546.9 Q753.7,540.8 762.8,538.4" fill="none" stroke="#a83a3a" stroke-width="0.9" stroke-dasharray="2.9 0.9"/><path d="M728.6,548.9 Q719.4,547.2 709.2,543.9" fill="none" stroke="#a83a3a" stroke-width="0.8" stroke-dasharray="2.4 0.9"/><path d="M751.2,547.0 Q757.0,546.8 759.9,543.3" fill="none" stroke="#c06058" stroke-width="0.9" stroke-dasharray="1.8 0.7"/><path d="M721.4,550.9 Q718.0,552.0 712.0,552.0" fill="none" stroke="#9a3030" stroke-width="1.0" stroke-dasharray="1.7 1.2"/><path d="M742.6,545.4 Q745.2,541.9 749.1,534.9" fill="none" stroke="#a83a3a" stroke-width="1.2" stroke-dasharray="2.1 0.9"/><path d="M749.7,550.9 Q752.5,551.1 759.0,552.0" fill="none" stroke="#c06058" stroke-width="1.1" stroke-dasharray="1.6 1.0"/><path d="M723.7,550.5 Q718.5,550.1 712.6,551.3" fill="none" stroke="#c06058" stroke-width="0.8" stroke-dasharray="1.8 1.2"/><path d="M745.4,551.0 Q750.7,550.4 753.6,552.4" fill="none" stroke="#c06058" stroke-width="1.1" stroke-dasharray="2.9 1.0"/><path d="M739.8,543.0 Q742.1,530.6 746.5,520.9" fill="none" stroke="#a83a3a" stroke-width="1.0" stroke-dasharray="3.0 1.0"/><path d="M725.8,549.4 Q715.5,548.9 702.0,546.5" fill="none" stroke="#c06058" stroke-width="1.2" stroke-dasharray="1.5 0.8"/><path d="M724.7,546.1 Q720.6,540.5 713.5,536.9" fill="none" stroke="#c06058" stroke-width="0.9" stroke-dasharray="2.4 1.2"/><path d="M740.3,544.1 Q745.0,536.4 746.7,529.0" fill="none" stroke="#9a3030" stroke-width="0.9" stroke-dasharray="2.2 1.2"/><path d="M739.7,544.4 Q742.0,532.5 746.3,523.1" fill="none" stroke="#9a3030" stroke-width="1.2" stroke-dasharray="2.7 1.1"/><path d="M749.2,545.3 Q755.3,538.2 762.7,533.1" fill="none" stroke="#b84e48" stroke-width="0.9" stroke-dasharray="2.9 1.4"/><path d="M723.8,548.4 Q717.2,545.8 713.5,544.8" fill="none" stroke="#9a3030" stroke-width="1.0" stroke-dasharray="1.8 1.1"/><path d="M726.8,549.2 Q722.0,549.8 718.0,548.1" fill="none" stroke="#b84e48" stroke-width="1.1" stroke-dasharray="2.4 1.0"/><path d="M723.8,548.5 Q715.4,545.6 703.7,543.3" fill="none" stroke="#c06058" stroke-width="1.2" stroke-dasharray="2.5 1.1"/><path d="M750.7,548.8 Q755.4,546.1 762.7,546.5" fill="none" stroke="#c06058" stroke-width="1.0" stroke-dasharray="2.4 0.7"/><path d="M732.6,543.4 Q728.9,534.5 727.1,526.1" fill="none" stroke="#c06058" stroke-width="0.8" stroke-dasharray="2.8 1.0"/><path d="M745.8,543.7 Q747.7,539.5 753.5,532.7" fill="none" stroke="#a83a3a" stroke-width="0.8" stroke-dasharray="2.3 0.7"/><path d="M751.1,546.9 Q755.7,544.5 759.8,541.9" fill="none" stroke="#c06058" stroke-width="1.1" stroke-dasharray="2.5 1.3"/><path d="M737.9,542.2 Q739.2,536.1 738.9,530.9" fill="none" stroke="#a83a3a" stroke-width="1.2" stroke-dasharray="2.4 1.1"/><path d="M727.8,547.4 Q725.7,545.0 720.2,541.7" fill="none" stroke="#9a3030" stroke-width="1.1" stroke-dasharray="1.7 0.8"/><path d="M731.1,542.6 Q728.5,531.3 722.2,520.3" fill="none" stroke="#b84e48" stroke-width="0.9" stroke-dasharray="2.7 1.2"/><path d="M742.9,544.5 Q747.6,538.8 748.6,534.2" fill="none" stroke="#c06058" stroke-width="1.0" stroke-dasharray="1.9 1.0"/><path d="M721.7,548.9 Q709.7,546.2 699.5,544.5" fill="none" stroke="#9a3030" stroke-width="1.3" stroke-dasharray="2.5 1.0"/><path d="M750.7,547.6 Q758.7,543.5 768.1,539.4" fill="none" stroke="#a83a3a" stroke-width="1.1" stroke-dasharray="2.0 1.3"/><path d="M745.6,548.0 Q758.1,543.4 768.3,541.8" fill="none" stroke="#9a3030" stroke-width="1.1" stroke-dasharray="1.5 0.6"/><circle cx="753.1" cy="547.6" r="0.9" fill="#b03c3c"/><circle cx="720.3" cy="545.8" r="0.8" fill="#c05050"/><circle cx="730.3" cy="554.5" r="1.3" fill="#a83838"/><circle cx="746.5" cy="557.9" r="1.1" fill="#b03c3c"/><circle cx="727.5" cy="542.1" r="1.3" fill="#c05050"/><circle cx="742.6" cy="557.7" r="1.1" fill="#a83838"/><circle cx="746.1" cy="543.2" r="0.8" fill="#b03c3c"/><circle cx="735.9" cy="555.9" r="0.8" fill="#c05050"/><circle cx="722.8" cy="547.5" r="1.3" fill="#a83838"/><circle cx="721.7" cy="550.4" r="1.1" fill="#a83838"/><circle cx="755.8" cy="550.4" r="1.0" fill="#a83838"/><circle cx="723.8" cy="550.1" r="1.0" fill="#c05050"/><circle cx="719.5" cy="554.6" r="0.8" fill="#a83838"/><circle cx="726.3" cy="556.1" r="0.7" fill="#b03c3c"/><circle cx="728.9" cy="541.5" r="0.9" fill="#b03c3c"/><circle cx="721.9" cy="549.5" r="1.3" fill="#b03c3c"/><circle cx="740.3" cy="556.6" r="0.8" fill="#b03c3c"/><circle cx="746.0" cy="545.0" r="1.0" fill="#a83838"/><circle cx="718.6" cy="546.9" r="0.9" fill="#c05050"/><circle cx="723.0" cy="553.5" r="1.3" fill="#c05050"/><circle cx="727.6" cy="555.7" r="0.9" fill="#c05050"/><circle cx="746.6" cy="545.4" r="0.8" fill="#c05050"/><circle cx="740.5" cy="543.8" r="0.9" fill="#c05050"/><circle cx="751.0" cy="556.8" r="0.8" fill="#b03c3c"/><circle cx="724.2" cy="554.4" r="1.0" fill="#a83838"/><circle cx="749.6" cy="551.9" r="0.7" fill="#b03c3c"/><circle cx="743.6" cy="543.6" r="1.2" fill="#b03c3c"/><circle cx="741.7" cy="541.1" r="1.1" fill="#a83838"/><circle cx="747.3" cy="556.4" r="1.2" fill="#a83838"/><circle cx="746.2" cy="552.5" r="1.1" fill="#a83838"/><circle cx="737.9" cy="544.7" r="0.8" fill="#b03c3c"/><circle cx="727.1" cy="552.5" r="1.4" fill="#b03c3c"/><circle cx="724.4" cy="556.4" r="1.3" fill="#a83838"/><circle cx="732.3" cy="541.3" r="0.8" fill="#b03c3c"/><circle cx="730.9" cy="556.2" r="1.1" fill="#b03c3c"/><circle cx="721.5" cy="550.1" r="1.3" fill="#c05050"/><circle cx="719.6" cy="545.8" r="1.0" fill="#b03c3c"/><circle cx="730.1" cy="543.1" r="1.4" fill="#a83838"/><circle cx="751.9" cy="549.1" r="1.0" fill="#b03c3c"/><circle cx="750.0" cy="553.5" r="1.3" fill="#a83838"/><circle cx="747.2" cy="550.5" r="1.2" fill="#b03c3c"/><circle cx="755.9" cy="549.3" r="0.9" fill="#b03c3c"/><circle cx="744.2" cy="553.5" r="1.2" fill="#b03c3c"/><circle cx="720.1" cy="552.5" r="1.3" fill="#c05050"/><circle cx="739.6" cy="541.9" r="1.3" fill="#a83838"/><circle cx="737.8" cy="543.8" r="1.1" fill="#c05050"/><circle cx="717.9" cy="552.3" r="0.9" fill="#b03c3c"/><circle cx="734.9" cy="545.2" r="0.7" fill="#a83838"/><circle cx="730.6" cy="542.8" r="1.0" fill="#c05050"/><circle cx="735.5" cy="544.4" r="1.3" fill="#c05050"/><circle cx="726.6" cy="546.0" r="1.4" fill="#a83838"/><circle cx="721.1" cy="553.0" r="0.8" fill="#b03c3c"/><circle cx="726.0" cy="556.0" r="1.1" fill="#c05050"/><circle cx="719.1" cy="551.2" r="1.0" fill="#c05050"/><circle cx="740.4" cy="542.7" r="0.9" fill="#b03c3c"/><circle cx="724.9" cy="544.5" r="1.3" fill="#a83838"/><circle cx="728.9" cy="556.7" r="1.4" fill="#b03c3c"/><circle cx="726.3" cy="546.3" r="1.0" fill="#b03c3c"/><circle cx="724.7" cy="555.7" r="1.1" fill="#b03c3c"/><circle cx="741.6" cy="544.2" r="0.7" fill="#c05050"/></g><path d="M111.4,629.5 C110.5,630.9 107.1,635.8 106.0,638.0 C104.9,640.2 105.1,640.0 104.8,642.7 C104.5,645.5 104.0,650.3 104.1,654.5 C104.2,658.7 105.0,664.0 105.5,668.0 C106.0,672.0 106.4,673.4 107.4,678.2 C108.4,683.0 109.9,690.6 111.4,696.7 C112.9,702.9 114.4,710.1 116.6,715.1 C118.8,720.1 122.6,723.9 124.5,727.0 C126.4,730.1 127.1,731.6 128.0,734.0 C128.9,736.4 129.5,740.2 129.8,741.5" fill="none" stroke="#8ccc44" stroke-width="2.2"/><path d="M105,643 C111,643 117,644 124,647" fill="none" stroke="#8ccc44" stroke-width="1.6"/><clipPath id="blobc"><path d="M123.5,644 C122,637 125,630 131,628.5 C137,626 144,627 147,632 C150,636 149,641 148,645 C150,648 149.5,652 147,654 C144,655.5 141,652 139,649 C134,650 127,650 123.5,644Z"/></clipPath><path d="M123.5,644 C122,637 125,630 131,628.5 C137,626 144,627 147,632 C150,636 149,641 148,645 C150,648 149.5,652 147,654 C144,655.5 141,652 139,649 C134,650 127,650 123.5,644Z" fill="#5cb83f"/><g fill="none" stroke="#3a2016" stroke-linecap="round" stroke-linejoin="round"><path d="M112.5,678 L113.5,660.5 L121.5,675.5 L130,660 L131.5,678" stroke-width="2.2"/><path d="M142.5,660.5 C139.5,661 140.5,665 140.5,670 L140.5,676 C140.5,679 139,679.5 136.5,678.5" stroke-width="2"/><path d="M147.3,663 L147.6,675" stroke-width="1" stroke-dasharray="2 1.5"/><path d="M152.6,660 L152.2,678.8" stroke-width="3"/></g><path d="M150.0,702.0 Q141.6,698.9 135.0,693.0" fill="none" stroke="#a83a48" stroke-width="1.2" stroke-dasharray="2.5 0.8"/><path d="M137.9,694.7 Q133.3,690.5 130.9,690.3" fill="none" stroke="#a83a48" stroke-width="1.0" stroke-dasharray="2.5 0.8"/><path d="M131.8,690.9 Q131.4,691.9 128.9,689.5" fill="none" stroke="#a83a48" stroke-width="0.8" stroke-dasharray="2.5 0.8"/><path d="M132.7,691.4 Q131.5,690.0 128.2,689.2" fill="none" stroke="#a83a48" stroke-width="0.8" stroke-dasharray="2.5 0.8"/><path d="M140.7,696.4 Q140.6,692.8 138.9,688.1" fill="none" stroke="#a83a48" stroke-width="1.0" stroke-dasharray="2.5 0.8"/><path d="M140.0,693.0 Q141.5,689.5 140.7,689.9" fill="none" stroke="#a83a48" stroke-width="0.8" stroke-dasharray="2.5 0.8"/><path d="M139.8,692.4 Q138.8,691.2 140.6,688.7" fill="none" stroke="#a83a48" stroke-width="0.8" stroke-dasharray="2.5 0.8"/><path d="M150.0,702.0 Q147.2,692.4 142.1,685.2" fill="none" stroke="#a03040" stroke-width="1.2" stroke-dasharray="2.5 0.8"/><path d="M143.9,688.9 Q145.0,682.8 144.2,679.7" fill="none" stroke="#a03040" stroke-width="1.0" stroke-dasharray="2.5 0.8"/><path d="M144.1,682.7 Q142.3,680.9 143.4,678.7" fill="none" stroke="#a03040" stroke-width="0.8" stroke-dasharray="2.5 0.8"/><path d="M144.1,683.9 Q145.0,682.4 147.3,681.0" fill="none" stroke="#a03040" stroke-width="0.8" stroke-dasharray="2.5 0.8"/><path d="M145.8,693.0 Q147.3,691.4 147.0,685.9" fill="none" stroke="#a03040" stroke-width="1.0" stroke-dasharray="2.5 0.8"/><path d="M146.6,688.4 Q145.9,687.0 147.5,684.7" fill="none" stroke="#a03040" stroke-width="0.8" stroke-dasharray="2.5 0.8"/><path d="M150.0,702.0 Q153.1,694.4 154.8,685.7" fill="none" stroke="#a03040" stroke-width="1.2" stroke-dasharray="2.5 0.8"/><path d="M152.8,692.7 Q152.8,687.7 156.0,686.2" fill="none" stroke="#a03040" stroke-width="1.0" stroke-dasharray="2.5 0.8"/><path d="M155.3,687.6 Q156.5,687.3 156.2,683.9" fill="none" stroke="#a03040" stroke-width="0.8" stroke-dasharray="2.5 0.8"/><path d="M154.2,687.7 Q156.7,683.0 155.5,677.6" fill="none" stroke="#a03040" stroke-width="1.0" stroke-dasharray="2.5 0.8"/><path d="M155.0,681.2 Q156.3,677.8 154.6,677.0" fill="none" stroke="#a03040" stroke-width="0.8" stroke-dasharray="2.5 0.8"/><path d="M154.8,683.3 Q156.4,682.5 158.2,679.0" fill="none" stroke="#a03040" stroke-width="0.8" stroke-dasharray="2.5 0.8"/><path d="M150.0,702.0 Q152.9,695.8 159.4,691.6" fill="none" stroke="#9a3040" stroke-width="1.2" stroke-dasharray="2.5 0.8"/><path d="M154.1,697.5 Q157.8,694.8 157.6,690.2" fill="none" stroke="#9a3040" stroke-width="1.0" stroke-dasharray="2.5 0.8"/><path d="M155.6,694.4 Q156.8,692.3 154.7,690.3" fill="none" stroke="#9a3040" stroke-width="0.8" stroke-dasharray="2.5 0.8"/><path d="M157.2,691.1 Q157.4,689.8 160.4,689.7" fill="none" stroke="#9a3040" stroke-width="0.8" stroke-dasharray="2.5 0.8"/><path d="M157.4,693.8 Q160.0,689.3 162.7,687.7" fill="none" stroke="#9a3040" stroke-width="1.0" stroke-dasharray="2.5 0.8"/><path d="M160.3,690.5 Q162.3,691.8 162.9,689.4" fill="none" stroke="#9a3040" stroke-width="0.8" stroke-dasharray="2.5 0.8"/><path d="M159.6,691.3 Q162.6,690.3 162.8,688.6" fill="none" stroke="#9a3040" stroke-width="0.8" stroke-dasharray="2.5 0.8"/><path d="M150.0,702.0 Q155.9,698.3 164.7,697.9" fill="none" stroke="#a03040" stroke-width="1.2" stroke-dasharray="2.5 0.8"/><path d="M157.2,700.0 Q159.7,698.4 165.6,699.8" fill="none" stroke="#a03040" stroke-width="1.0" stroke-dasharray="2.5 0.8"/><path d="M161.1,699.9 Q162.9,698.9 164.7,700.1" fill="none" stroke="#a03040" stroke-width="0.8" stroke-dasharray="2.5 0.8"/><path d="M161.3,699.9 Q163.6,699.1 164.4,697.9" fill="none" stroke="#a03040" stroke-width="0.8" stroke-dasharray="2.5 0.8"/><path d="M150.0,702.0 Q159.8,704.6 167.5,704.9" fill="none" stroke="#a83a48" stroke-width="1.2" stroke-dasharray="2.5 0.8"/><path d="M160.4,703.7 Q163.3,708.0 165.8,709.5" fill="none" stroke="#a83a48" stroke-width="1.0" stroke-dasharray="2.5 0.8"/><path d="M163.2,706.8 Q162.0,707.9 164.5,709.9" fill="none" stroke="#a83a48" stroke-width="0.8" stroke-dasharray="2.5 0.8"/><path d="M150.0,702.0 Q158.3,709.7 164.1,715.0" fill="none" stroke="#9a3040" stroke-width="1.2" stroke-dasharray="2.5 0.8"/><path d="M162.4,713.4 Q167.2,714.4 172.0,713.5" fill="none" stroke="#9a3040" stroke-width="1.0" stroke-dasharray="2.5 0.8"/><path d="M167.7,713.5 Q170.1,712.6 172.0,715.2" fill="none" stroke="#9a3040" stroke-width="0.8" stroke-dasharray="2.5 0.8"/><path d="M170.1,713.5 Q170.7,717.1 172.8,716.8" fill="none" stroke="#9a3040" stroke-width="0.8" stroke-dasharray="2.5 0.8"/><path d="M156.4,707.9 Q161.2,708.9 163.5,707.8" fill="none" stroke="#9a3040" stroke-width="1.0" stroke-dasharray="2.5 0.8"/><path d="M161.0,707.8 Q163.2,709.0 163.6,710.4" fill="none" stroke="#9a3040" stroke-width="0.8" stroke-dasharray="2.5 0.8"/><path d="M161.1,707.8 Q160.2,709.2 163.1,709.4" fill="none" stroke="#9a3040" stroke-width="0.8" stroke-dasharray="2.5 0.8"/><path d="M150.0,702.0 Q154.1,709.4 155.6,715.0" fill="none" stroke="#a83a48" stroke-width="1.2" stroke-dasharray="2.5 0.8"/><path d="M154.5,712.4 Q155.1,716.6 157.9,717.5" fill="none" stroke="#a83a48" stroke-width="1.0" stroke-dasharray="2.5 0.8"/><path d="M156.0,714.7 Q157.7,717.4 157.7,717.0" fill="none" stroke="#a83a48" stroke-width="0.8" stroke-dasharray="2.5 0.8"/><path d="M157.2,716.4 Q158.5,719.4 158.4,719.5" fill="none" stroke="#a83a48" stroke-width="0.8" stroke-dasharray="2.5 0.8"/><path d="M154.2,711.8 Q156.1,714.2 154.7,717.6" fill="none" stroke="#a83a48" stroke-width="1.0" stroke-dasharray="2.5 0.8"/><path d="M154.5,715.2 Q156.2,715.4 154.6,718.3" fill="none" stroke="#a83a48" stroke-width="0.8" stroke-dasharray="2.5 0.8"/><path d="M154.5,714.7 Q151.9,714.7 152.7,717.2" fill="none" stroke="#a83a48" stroke-width="0.8" stroke-dasharray="2.5 0.8"/><path d="M150.0,702.0 Q149.0,710.1 146.0,718.5" fill="none" stroke="#9a3040" stroke-width="1.2" stroke-dasharray="2.5 0.8"/><path d="M146.5,716.8 Q148.6,719.9 149.2,724.0" fill="none" stroke="#9a3040" stroke-width="1.0" stroke-dasharray="2.5 0.8"/><path d="M148.5,722.1 Q149.4,722.8 151.8,725.3" fill="none" stroke="#9a3040" stroke-width="0.8" stroke-dasharray="2.5 0.8"/><path d="M148.7,722.7 Q149.2,724.2 152.1,725.0" fill="none" stroke="#9a3040" stroke-width="0.8" stroke-dasharray="2.5 0.8"/><path d="M150.0,702.0 Q145.2,707.7 140.8,713.9" fill="none" stroke="#9a3040" stroke-width="1.2" stroke-dasharray="2.5 0.8"/><path d="M143.2,710.7 Q140.5,711.3 136.8,715.1" fill="none" stroke="#9a3040" stroke-width="1.0" stroke-dasharray="2.5 0.8"/><path d="M140.6,712.5 Q139.1,710.7 136.0,712.7" fill="none" stroke="#9a3040" stroke-width="0.8" stroke-dasharray="2.5 0.8"/><path d="M144.0,709.7 Q145.4,712.4 145.2,717.2" fill="none" stroke="#9a3040" stroke-width="1.0" stroke-dasharray="2.5 0.8"/><path d="M145.1,716.2 Q145.4,717.2 148.3,719.3" fill="none" stroke="#9a3040" stroke-width="0.8" stroke-dasharray="2.5 0.8"/><path d="M150.0,702.0 Q145.3,706.4 138.2,708.3" fill="none" stroke="#a83a48" stroke-width="1.2" stroke-dasharray="2.5 0.8"/><path d="M140.4,707.2 Q139.9,708.4 136.3,711.6" fill="none" stroke="#a83a48" stroke-width="1.0" stroke-dasharray="2.5 0.8"/><path d="M137.1,710.8 Q136.9,709.2 133.7,711.5" fill="none" stroke="#a83a48" stroke-width="0.8" stroke-dasharray="2.5 0.8"/><path d="M137.5,710.3 Q138.6,713.0 137.6,713.7" fill="none" stroke="#a83a48" stroke-width="0.8" stroke-dasharray="2.5 0.8"/><path d="M144.2,705.1 Q143.6,709.1 142.1,712.2" fill="none" stroke="#a83a48" stroke-width="1.0" stroke-dasharray="2.5 0.8"/><path d="M142.6,710.3 Q140.4,710.7 141.0,712.7" fill="none" stroke="#a83a48" stroke-width="0.8" stroke-dasharray="2.5 0.8"/><path d="M142.7,710.2 Q144.5,710.6 145.0,713.6" fill="none" stroke="#a83a48" stroke-width="0.8" stroke-dasharray="2.5 0.8"/><path d="M150.0,702.0 Q139.9,701.7 131.6,705.0" fill="none" stroke="#9a3040" stroke-width="1.2" stroke-dasharray="2.5 0.8"/><path d="M137.3,704.1 Q132.6,704.9 128.7,709.6" fill="none" stroke="#9a3040" stroke-width="1.0" stroke-dasharray="2.5 0.8"/><path d="M129.8,708.8 Q128.6,710.8 125.8,711.0" fill="none" stroke="#9a3040" stroke-width="0.8" stroke-dasharray="2.5 0.8"/><g clip-path="url(#blobc)"><circle cx="137.2" cy="629.2" r="1.2" fill="#4ea836"/><circle cx="136.6" cy="647.4" r="1.0" fill="#3e9a2c"/><circle cx="140.0" cy="631.9" r="1.1" fill="#78c858"/><circle cx="135.9" cy="651.2" r="0.9" fill="#4ea836"/><circle cx="147.5" cy="646.0" r="0.8" fill="#3e9a2c"/><circle cx="147.4" cy="641.9" r="1.2" fill="#78c858"/><circle cx="133.5" cy="653.4" r="1.3" fill="#78c858"/><circle cx="123.3" cy="636.9" r="1.0" fill="#3e9a2c"/><circle cx="123.7" cy="637.5" r="1.1" fill="#4ea836"/><circle cx="148.1" cy="642.0" r="1.2" fill="#4ea836"/><circle cx="129.1" cy="641.4" r="0.8" fill="#78c858"/><circle cx="143.0" cy="651.7" r="0.9" fill="#4ea836"/><circle cx="129.5" cy="643.8" r="0.8" fill="#3e9a2c"/><circle cx="145.0" cy="637.1" r="0.7" fill="#4ea836"/><circle cx="147.6" cy="653.7" r="1.1" fill="#3e9a2c"/><circle cx="143.0" cy="647.8" r="0.7" fill="#3e9a2c"/><circle cx="137.1" cy="652.1" r="1.0" fill="#4ea836"/><circle cx="127.3" cy="645.5" r="1.0" fill="#78c858"/><circle cx="143.8" cy="648.0" r="1.1" fill="#78c858"/><circle cx="128.0" cy="650.2" r="0.8" fill="#78c858"/><circle cx="130.2" cy="642.1" r="0.9" fill="#4ea836"/><circle cx="144.3" cy="636.4" r="0.9" fill="#78c858"/><circle cx="142.9" cy="647.5" r="1.3" fill="#78c858"/><circle cx="126.8" cy="627.9" r="1.1" fill="#3e9a2c"/><circle cx="131.0" cy="650.3" r="0.9" fill="#78c858"/><circle cx="129.1" cy="647.6" r="1.2" fill="#78c858"/><circle cx="141.2" cy="627.8" r="1.2" fill="#4ea836"/><circle cx="136.5" cy="639.9" r="0.9" fill="#3e9a2c"/><circle cx="135.1" cy="647.1" r="0.6" fill="#78c858"/><circle cx="143.3" cy="637.5" r="0.8" fill="#78c858"/><circle cx="144.4" cy="653.0" r="0.7" fill="#78c858"/><circle cx="147.0" cy="629.2" r="0.8" fill="#3e9a2c"/><circle cx="126.5" cy="648.0" r="1.3" fill="#4ea836"/><circle cx="141.4" cy="635.3" r="0.8" fill="#4ea836"/><circle cx="126.6" cy="648.6" r="0.9" fill="#4ea836"/><circle cx="141.5" cy="636.4" r="1.1" fill="#78c858"/><circle cx="123.2" cy="650.6" r="0.8" fill="#78c858"/><circle cx="141.8" cy="638.6" r="0.7" fill="#3e9a2c"/><circle cx="140.7" cy="627.6" r="1.1" fill="#3e9a2c"/><circle cx="142.0" cy="640.7" r="1.0" fill="#3e9a2c"/><circle cx="133.1" cy="644.8" r="1.0" fill="#78c858"/><circle cx="126.9" cy="638.3" r="0.9" fill="#3e9a2c"/><circle cx="135.3" cy="641.4" r="0.8" fill="#4ea836"/><circle cx="123.5" cy="645.0" r="0.9" fill="#4ea836"/><circle cx="143.9" cy="652.3" r="1.1" fill="#78c858"/><circle cx="136.2" cy="631.6" r="1.2" fill="#78c858"/><circle cx="141.7" cy="635.4" r="1.3" fill="#78c858"/><circle cx="128.0" cy="631.2" r="1.0" fill="#4ea836"/><circle cx="129.0" cy="630.1" r="1.0" fill="#4ea836"/><circle cx="140.0" cy="630.4" r="0.7" fill="#3e9a2c"/><circle cx="141.9" cy="642.1" r="0.7" fill="#4ea836"/><circle cx="128.9" cy="642.9" r="0.8" fill="#78c858"/><circle cx="138.6" cy="649.9" r="1.0" fill="#3e9a2c"/><circle cx="144.9" cy="638.2" r="1.3" fill="#3e9a2c"/><circle cx="132.7" cy="649.0" r="0.6" fill="#78c858"/><circle cx="124.3" cy="638.3" r="1.2" fill="#78c858"/><circle cx="127.9" cy="652.9" r="0.7" fill="#78c858"/><circle cx="144.0" cy="647.2" r="1.0" fill="#4ea836"/><circle cx="130.8" cy="637.4" r="0.9" fill="#78c858"/><circle cx="133.5" cy="649.4" r="0.6" fill="#78c858"/><circle cx="138.8" cy="640.6" r="1.2" fill="#4ea836"/><circle cx="143.3" cy="631.2" r="0.8" fill="#4ea836"/><circle cx="130.3" cy="646.0" r="1.2" fill="#4ea836"/><circle cx="133.1" cy="651.2" r="0.9" fill="#3e9a2c"/><circle cx="125.9" cy="654.2" r="0.8" fill="#78c858"/><circle cx="142.6" cy="628.3" r="1.0" fill="#3e9a2c"/><circle cx="131.9" cy="632.2" r="1.2" fill="#78c858"/><circle cx="136.6" cy="631.6" r="0.8" fill="#4ea836"/><circle cx="146.4" cy="636.4" r="1.1" fill="#4ea836"/><circle cx="146.0" cy="654.0" r="0.8" fill="#78c858"/></g><path d="M104.0,662.0 C103.0,663.7 99.5,668.3 98.0,672.0 C96.5,675.7 96.0,680.0 95.0,684.0 C94.0,688.0 92.3,692.3 92.0,696.0 C91.7,699.7 91.7,703.7 93.0,706.0 C94.3,708.3 97.8,710.3 100.0,710.0 C102.2,709.7 105.0,705.0 106.0,704.0" fill="none" stroke="#9ad05a" stroke-width="1.2" stroke-dasharray="2 1.5"/><path d="M110.0,690.0 C111.7,690.7 116.7,692.7 120.0,694.0 C123.3,695.3 126.7,697.0 130.0,698.0 C133.3,699.0 138.3,699.7 140.0,700.0" fill="none" stroke="#b0c890" stroke-width="1" stroke-dasharray="2 2"/><path d="M130,740 C134,736 140,735 146,738" fill="none" stroke="#a8d870" stroke-width="1"/><defs><linearGradient id="cyl1" x1="0" y1="0" x2="0" y2="1"><stop offset="0" stop-color="#e2f2e2"/><stop offset="0.45" stop-color="#ecf7ec"/><stop offset="1" stop-color="#d8eedb"/></linearGradient><linearGradient id="cyl2" x1="0" y1="0" x2="0" y2="1"><stop offset="0" stop-color="#e0f1e2"/><stop offset="0.5" stop-color="#d2ecd9"/><stop offset="1" stop-color="#bfe3cc"/></linearGradient></defs><path d="M558.4,615.4 C580,613 620,611.5 670.4,611.3 L670.4,685.4 L564,684 C561,683 560,680 560,676 C559,655 558.5,635 558.4,615.4Z" fill="url(#cyl1)"/><path d="M670.4,611.3 C690,612 700,614 716,617 C740,622 760,625 782.4,625.8 L781.5,686 L670.4,685.4Z" fill="url(#cyl2)"/><ellipse cx="781.8" cy="656" rx="6.5" ry="29.5" fill="#eef4dc"/>
<text x="2" y="32" font-family="'Liberation Sans', sans-serif" font-size="38" font-weight="bold" fill="#111" stroke="#111" stroke-width="0.3" textLength="19" lengthAdjust="spacingAndGlyphs">a</text><text x="46" y="32" font-family="'Liberation Sans', sans-serif" font-size="29" font-weight="bold" fill="#111" stroke="#111" stroke-width="0.5" textLength="378.5" lengthAdjust="spacingAndGlyphs">Diagramma schematico</text><text x="46" y="66.2" font-family="'Liberation Sans', sans-serif" font-size="29" font-weight="bold" fill="#111" stroke="#111" stroke-width="0.5" textLength="418.5" lengthAdjust="spacingAndGlyphs">che illustra il meccanismo</text><text x="46" y="100.5" font-family="'Liberation Sans', sans-serif" font-size="29" font-weight="bold" fill="#111" stroke="#111" stroke-width="0.5" textLength="379" lengthAdjust="spacingAndGlyphs">di azione del gene MT<tspan font-family="'Liberation Mono', monospace" font-size="31.9">I1</tspan></text><text x="46" y="134.4" font-family="'Liberation Sans', sans-serif" font-size="29" font-weight="bold" fill="#111" stroke="#111" stroke-width="0.5" textLength="439" lengthAdjust="spacingAndGlyphs">nell'eredità mitoocondriale</text><text x="46" y="168.2" font-family="'Liberation Sans', sans-serif" font-size="29" font-weight="bold" fill="#111" stroke="#111" stroke-width="0.5" textLength="181" lengthAdjust="spacingAndGlyphs">del cetriolo</text><text x="739.5" y="71.8" font-family="'Liberation Sans', sans-serif" font-size="31" font-weight="bold" fill="#111" stroke="#111" stroke-width="0.5" textLength="82.5" lengthAdjust="spacingAndGlyphs">MT<tspan font-family="'Liberation Mono', monospace" font-size="34.1">I1</tspan></text><text x="6" y="428.7" font-family="'Liberation Sans', sans-serif" font-size="30" font-weight="normal" fill="#111" stroke="#111" stroke-width="0.3" textLength="255" lengthAdjust="spacingAndGlyphs">cellula uovo con</text><text x="23" y="465.5" font-family="'Liberation Sans', sans-serif" font-size="28.5" font-weight="bold" fill="#111" stroke="#111" stroke-width="0.5" textLength="186.5" lengthAdjust="spacingAndGlyphs">MT<tspan font-family="'Liberation Mono', monospace" font-size="31.4">I1</tspan> attivo</text><text x="6" y="503.2" font-family="'Liberation Sans', sans-serif" font-size="30" font-weight="normal" fill="#111" stroke="#111" stroke-width="0.3" textLength="222.5" lengthAdjust="spacingAndGlyphs">(degradazione</text><text x="6" y="540.5" font-family="'Liberation Sans', sans-serif" font-size="30" font-weight="normal" fill="#111" stroke="#111" stroke-width="0.3" textLength="246" lengthAdjust="spacingAndGlyphs">mTNA matemo)</text><text x="2" y="645.6" font-family="'Liberation Sans', sans-serif" font-size="36" font-weight="bold" fill="#111" stroke="#111" stroke-width="0.3" textLength="21" lengthAdjust="spacingAndGlyphs">b</text><text x="329" y="647.3" font-family="'Liberation Sans', sans-serif" font-size="28.5" font-weight="bold" fill="#111" stroke="#111" stroke-width="0.5" textLength="209" lengthAdjust="spacingAndGlyphs">MT<tspan font-family="'Liberation Mono', monospace" font-size="31.4">I1</tspan> mutato</text><text x="310" y="683.4" font-family="'Liberation Sans', sans-serif" font-size="30" font-weight="normal" fill="#111" stroke="#111" stroke-width="0.3" textLength="232" lengthAdjust="spacingAndGlyphs">(sopravvivenza</text><text x="312" y="720.1" font-family="'Liberation Sans', sans-serif" font-size="30" font-weight="normal" fill="#111" stroke="#111" stroke-width="0.3" textLength="242.5" lengthAdjust="spacingAndGlyphs">mTNA materno)</text>
</svg>
</body></html>
